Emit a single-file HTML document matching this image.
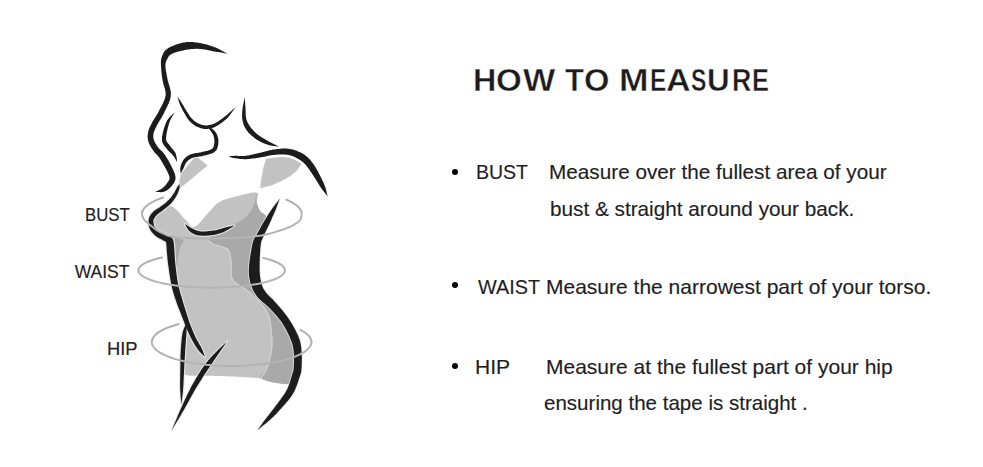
<!DOCTYPE html>
<html><head><meta charset="utf-8"><title>How to Measure</title>
<style>
html,body{margin:0;padding:0;background:#fff;}
body{width:983px;height:467px;position:relative;overflow:hidden;font-family:"Liberation Sans",sans-serif;}
.t{position:absolute;white-space:pre;line-height:1;transform-origin:0 0;-webkit-text-stroke:0.15px currentColor;}
.t.h{-webkit-text-stroke:0.4px #fff;}
.dot{position:absolute;width:6px;height:6px;border-radius:50%;background:#050505;}
svg{position:absolute;left:0;top:0;}
</style></head><body>
<svg width="983" height="467" viewBox="0 0 983 467">
<path d="M142.0,214.8 L142.0,213.6 L142.2,212.4 L142.5,211.2 L143.1,210.0 L143.8,208.9 L144.7,207.7 L145.9,206.5 L147.2,205.4 L148.7,204.3 L150.3,203.2 L152.2,202.1 L154.2,201.1 L156.4,200.1 L158.7,199.1 L161.2,198.2 L163.9,197.3" fill="none" stroke="#b0b0b0" stroke-width="2.0"/>
<path d="M285.6,199.4 L287.6,200.2 L289.5,201.1 L291.2,202.0 L292.8,202.9 L294.3,203.8 L295.7,204.7 L296.9,205.7 L298.0,206.7 L299.0,207.7 L299.8,208.7 L300.4,209.7 L301.0,210.7 L301.4,211.7 L301.6,212.8 L301.7,213.8 L301.7,214.8" fill="none" stroke="#b0b0b0" stroke-width="2.0"/>
<path d="M138.4,270.9 L138.4,270.0 L138.6,269.0 L139.0,268.1 L139.6,267.1 L140.5,266.2 L141.5,265.3 L142.8,264.4 L144.3,263.5 L145.9,262.6 L147.8,261.8 L149.9,261.0 L152.1,260.2 L154.5,259.4 L157.1,258.7 L159.9,258.0 L162.8,257.3" fill="none" stroke="#b0b0b0" stroke-width="2.0"/>
<path d="M262.5,257.8 L265.2,258.4 L267.8,259.1 L270.2,259.8 L272.4,260.5 L274.5,261.3 L276.4,262.1 L278.1,262.9 L279.6,263.8 L281.0,264.6 L282.1,265.5 L283.1,266.4 L283.9,267.3 L284.4,268.2 L284.8,269.1 L285.0,270.0 L285.0,270.9" fill="none" stroke="#b0b0b0" stroke-width="2.0"/>
<path d="M151.8,342.8 L151.8,341.5 L152.0,340.2 L152.5,338.8 L153.2,337.5 L154.2,336.2 L155.4,334.9 L156.8,333.6 L158.5,332.4 L160.4,331.2 L162.5,330.0 L164.8,328.8 L167.4,327.7 L170.1,326.7 L173.1,325.7 L176.2,324.7 L179.5,323.8" fill="none" stroke="#b0b0b0" stroke-width="2.0"/>
<path d="M299.8,329.5 L301.3,330.3 L302.6,331.1 L303.9,331.8 L305.1,332.6 L306.2,333.4 L307.1,334.3 L308.0,335.1 L308.8,335.9 L309.5,336.8 L310.1,337.6 L310.5,338.5 L310.9,339.4 L311.2,340.2 L311.3,341.1 L311.4,342.0 L311.4,342.8" fill="none" stroke="#b0b0b0" stroke-width="2.0"/>
<path d="M170.3,206.0 L172.0,206.5 L173.7,207.5 L175.4,208.9 L177.1,210.5 L178.8,212.3 L180.4,214.1 L181.9,216.0 L183.4,217.7 L184.7,219.3 L186.0,220.5 L187.1,221.6 L188.1,222.6 L188.9,223.7 L189.6,224.6 L190.3,225.5 L191.0,226.2 L191.7,226.8 L192.5,227.1 L193.3,227.3 L194.3,227.1 L195.4,226.6 L196.6,225.8 L197.9,224.6 L199.2,223.3 L200.6,221.8 L201.9,220.2 L203.3,218.6 L204.6,217.1 L205.9,215.6 L207.1,214.3 L208.2,213.1 L209.3,211.8 L210.4,210.6 L211.4,209.4 L212.4,208.2 L213.4,207.0 L214.5,205.9 L215.5,204.8 L216.6,203.9 L217.8,203.0 L219.0,202.2 L220.1,201.6 L221.2,201.0 L222.3,200.5 L223.5,200.0 L224.7,199.6 L226.1,199.2 L227.6,198.7 L229.2,198.3 L231.0,197.8 L233.1,197.2 L235.7,196.5 L238.5,195.7 L241.4,195.0 L244.4,194.2 L247.3,193.6 L250.1,193.0 L252.5,192.6 L254.6,192.4 L256.2,192.5 L257.2,192.9 L257.8,193.5 L258.1,194.3 L258.0,195.3 L257.8,196.4 L257.5,197.6 L257.1,198.8 L256.8,200.0 L256.6,201.1 L256.7,202.1 L256.9,203.0 L257.1,203.9 L257.4,204.8 L257.7,205.7 L258.0,206.5 L258.3,207.4 L258.7,208.2 L259.1,209.1 L259.5,209.9 L260.0,210.7 L260.6,211.5 L261.3,212.1 L262.1,212.7 L262.9,213.3 L263.8,213.9 L264.6,214.6 L265.3,215.3 L265.9,216.1 L266.3,217.1 L266.4,218.2 L266.3,219.5 L265.9,221.1 L265.4,222.8 L264.7,224.6 L264.0,226.4 L263.2,228.3 L262.4,230.2 L261.6,231.9 L260.9,233.6 L260.3,235.0 L259.8,236.2 L259.4,237.2 L258.9,238.0 L258.5,238.8 L258.2,239.5 L257.8,240.2 L257.5,241.1 L257.1,242.1 L256.8,243.4 L256.5,245.0 L256.2,246.9 L255.9,249.2 L255.6,251.7 L255.3,254.4 L255.0,257.2 L254.7,260.0 L254.5,262.8 L254.3,265.4 L254.2,267.8 L254.2,270.0 L254.2,271.9 L254.3,273.7 L254.5,275.4 L254.6,277.0 L254.9,278.4 L255.1,279.8 L255.4,281.2 L255.8,282.5 L256.1,283.7 L256.5,285.0 L256.9,286.2 L257.3,287.3 L257.8,288.4 L258.2,289.4 L258.8,290.3 L259.3,291.2 L259.9,292.2 L260.5,293.1 L261.2,294.0 L262.0,295.0 L262.8,296.0 L263.7,296.9 L264.6,297.8 L265.6,298.7 L266.6,299.7 L267.7,300.6 L268.8,301.6 L269.9,302.7 L271.0,303.8 L272.2,305.0 L273.4,306.3 L274.7,307.7 L276.0,309.1 L277.3,310.6 L278.7,312.2 L280.0,313.8 L281.4,315.4 L282.7,317.1 L283.9,318.7 L285.1,320.4 L286.2,322.1 L287.3,323.9 L288.4,325.8 L289.5,327.7 L290.5,329.6 L291.5,331.4 L292.4,333.3 L293.3,335.1 L294.0,336.8 L294.7,338.4 L295.3,339.9 L295.7,341.3 L296.1,342.6 L296.5,343.9 L296.7,345.1 L296.9,346.3 L297.1,347.5 L297.3,348.8 L297.4,350.0 L297.6,351.3 L297.8,352.6 L297.9,354.0 L298.0,355.4 L298.1,356.9 L298.1,358.3 L298.2,359.7 L298.2,361.1 L298.1,362.4 L298.1,363.7 L298.0,365.0 L297.9,366.2 L297.8,367.4 L297.7,368.6 L297.5,369.7 L297.3,370.9 L297.1,371.9 L296.8,373.0 L296.5,374.0 L296.0,375.0 L295.5,376.0 L294.9,377.0 L294.4,378.0 L293.8,379.0 L293.2,380.1 L292.5,381.0 L291.7,381.9 L290.7,382.7 L289.6,383.3 L288.2,383.8 L286.6,384.0 L284.8,384.0 L282.8,383.7 L280.6,383.2 L278.3,382.6 L275.8,381.9 L273.1,381.1 L270.3,380.4 L267.3,379.6 L264.2,379.0 L260.9,378.5 L257.4,378.1 L253.6,377.8 L249.6,377.5 L245.4,377.2 L241.1,377.0 L236.8,376.8 L232.4,376.6 L228.1,376.4 L224.0,376.2 L220.0,376.0 L216.0,375.9 L211.8,375.8 L207.6,375.8 L203.4,375.9 L199.2,375.9 L195.3,375.8 L191.7,375.7 L188.4,375.4 L185.7,375.0 L183.5,374.3 L182.0,373.4 L181.1,372.3 L180.7,371.1 L180.7,369.8 L180.9,368.3 L181.4,366.7 L181.9,365.1 L182.5,363.4 L182.8,361.7 L183.0,360.0 L183.0,358.2 L183.0,356.3 L183.0,354.4 L183.0,352.3 L183.0,350.3 L183.1,348.2 L183.1,346.1 L183.2,344.0 L183.3,342.0 L183.5,340.0 L183.7,338.1 L184.1,336.3 L184.5,334.5 L185.0,332.8 L185.5,331.1 L185.9,329.3 L186.3,327.5 L186.5,325.6 L186.6,323.5 L186.5,321.4 L186.2,319.1 L185.7,316.7 L185.2,314.2 L184.4,311.6 L183.7,309.0 L182.8,306.3 L182.0,303.6 L181.1,301.0 L180.3,298.3 L179.5,295.7 L178.7,293.1 L178.0,290.4 L177.1,287.7 L176.3,284.9 L175.5,282.2 L174.7,279.5 L173.9,276.9 L173.2,274.5 L172.5,272.1 L172.0,270.0 L171.6,268.1 L171.2,266.3 L171.0,264.8 L170.8,263.3 L170.6,262.0 L170.5,260.6 L170.3,259.3 L170.1,258.0 L169.9,256.5 L169.6,255.0 L169.2,253.3 L168.9,251.5 L168.5,249.7 L168.1,247.8 L167.7,245.9 L167.2,244.0 L166.7,242.3 L166.2,240.7 L165.6,239.2 L165.0,238.0 L164.3,237.0 L163.5,236.3 L162.6,235.7 L161.7,235.2 L160.7,234.9 L159.8,234.6 L158.9,234.2 L158.0,233.9 L157.1,233.4 L156.4,232.8 L155.7,232.1 L155.0,231.3 L154.3,230.5 L153.7,229.7 L153.1,228.8 L152.5,227.9 L152.0,227.0 L151.6,226.1 L151.3,225.2 L151.0,224.3 L150.8,223.4 L150.5,222.5 L150.3,221.6 L150.2,220.7 L150.1,219.8 L150.1,218.9 L150.3,218.0 L150.7,217.0 L151.3,216.1 L152.1,215.2 L153.2,214.2 L154.7,213.0 L156.4,211.7 L158.3,210.4 L160.3,209.1 L162.4,208.0 L164.5,207.0 L166.5,206.3 L168.5,206.0Z" fill="#c2c2c2"/>
<path d="M256.2,192.5 L256.3,192.6 L256.3,193.1 L256.3,193.9 L256.3,194.9 L256.3,196.1 L256.4,197.4 L256.4,198.7 L256.4,199.9 L256.5,201.1 L256.7,202.1 L256.9,203.0 L257.1,203.9 L257.4,204.8 L257.7,205.7 L258.0,206.5 L258.3,207.4 L258.7,208.2 L259.1,209.1 L259.5,209.9 L260.0,210.7 L260.6,211.5 L261.3,212.1 L262.1,212.7 L262.9,213.3 L263.8,213.9 L264.6,214.6 L265.3,215.3 L265.9,216.1 L266.3,217.1 L266.4,218.2 L266.3,219.5 L265.9,221.1 L265.4,222.8 L264.7,224.6 L264.0,226.4 L263.2,228.3 L262.4,230.2 L261.6,231.9 L260.9,233.6 L260.3,235.0 L259.8,236.2 L259.4,237.2 L258.9,238.0 L258.5,238.8 L258.2,239.5 L257.8,240.2 L257.5,241.1 L257.1,242.1 L256.8,243.4 L256.5,245.0 L256.2,246.9 L255.9,249.2 L255.6,251.7 L255.3,254.4 L255.0,257.2 L254.7,260.0 L254.5,262.8 L254.3,265.4 L254.2,267.8 L254.2,270.0 L254.2,271.9 L254.3,273.7 L254.5,275.4 L254.6,277.0 L254.9,278.4 L255.1,279.8 L255.4,281.2 L255.8,282.5 L256.1,283.7 L256.5,285.0 L256.9,286.2 L257.3,287.3 L257.8,288.4 L258.2,289.4 L258.8,290.3 L259.3,291.2 L259.9,292.2 L260.5,293.1 L261.2,294.0 L262.0,295.0 L262.8,296.0 L263.7,296.9 L264.6,297.8 L265.6,298.7 L266.6,299.7 L267.7,300.6 L268.8,301.6 L269.9,302.7 L271.0,303.8 L272.2,305.0 L273.4,306.3 L274.7,307.7 L276.0,309.1 L277.3,310.6 L278.7,312.2 L280.0,313.8 L281.4,315.4 L282.7,317.1 L283.9,318.7 L285.1,320.4 L286.2,322.1 L287.3,323.9 L288.4,325.8 L289.5,327.7 L290.5,329.6 L291.5,331.4 L292.4,333.3 L293.3,335.1 L294.0,336.8 L294.7,338.4 L295.3,339.9 L295.7,341.3 L296.1,342.6 L296.5,343.9 L296.7,345.1 L296.9,346.3 L297.1,347.5 L297.3,348.8 L297.4,350.0 L297.6,351.3 L297.8,352.6 L297.9,354.0 L298.0,355.4 L298.1,356.9 L298.1,358.3 L298.2,359.7 L298.2,361.1 L298.1,362.4 L298.1,363.7 L298.0,365.0 L297.9,366.2 L297.8,367.4 L297.7,368.6 L297.5,369.7 L297.3,370.9 L297.1,371.9 L296.8,373.0 L296.5,374.0 L296.0,375.0 L295.5,376.0 L294.9,377.0 L294.4,378.0 L293.8,379.0 L293.2,380.1 L292.5,381.0 L291.7,381.9 L290.7,382.7 L289.6,383.3 L288.2,383.8 L286.6,384.0 L284.6,384.0 L282.0,383.8 L279.1,383.5 L276.0,383.0 L272.8,382.4 L269.7,381.7 L266.8,380.9 L264.3,380.1 L262.3,379.3 L260.9,378.5 L260.2,377.7 L260.1,376.8 L260.4,376.0 L261.1,375.0 L262.1,374.0 L263.1,373.0 L264.3,371.9 L265.4,370.7 L266.3,369.4 L267.0,368.0 L267.5,366.5 L268.1,364.9 L268.6,363.1 L269.1,361.3 L269.6,359.4 L270.1,357.5 L270.5,355.5 L270.9,353.6 L271.2,351.8 L271.5,350.0 L271.7,348.3 L271.9,346.7 L272.0,345.1 L272.0,343.5 L272.1,342.0 L272.0,340.4 L272.0,338.8 L271.9,337.1 L271.7,335.3 L271.5,333.5 L271.3,331.5 L271.1,329.5 L270.9,327.3 L270.6,325.1 L270.3,322.9 L269.9,320.7 L269.4,318.4 L268.8,316.2 L268.0,314.1 L267.0,312.0 L265.8,310.0 L264.4,307.9 L262.8,305.9 L261.1,303.8 L259.3,301.9 L257.4,299.9 L255.5,298.0 L253.6,296.2 L251.8,294.5 L250.0,292.8 L248.2,291.3 L246.3,289.9 L244.4,288.6 L242.4,287.3 L240.4,286.1 L238.6,285.0 L236.8,283.8 L235.2,282.6 L233.9,281.3 L232.8,280.0 L232.0,278.6 L231.5,277.0 L231.2,275.5 L231.1,273.9 L231.1,272.2 L231.2,270.6 L231.3,269.1 L231.4,267.6 L231.5,266.3 L231.4,265.0 L231.3,263.9 L231.2,262.9 L231.1,261.9 L231.0,261.0 L231.0,260.2 L230.9,259.5 L230.8,258.7 L230.6,257.9 L230.5,257.2 L230.3,256.4 L230.1,255.6 L230.0,254.8 L229.8,254.0 L229.7,253.2 L229.5,252.4 L229.3,251.7 L228.9,250.9 L228.5,250.2 L227.9,249.5 L227.1,248.9 L226.1,248.3 L224.9,247.8 L223.4,247.2 L221.9,246.7 L220.3,246.3 L218.7,245.8 L217.1,245.4 L215.6,245.0 L214.3,244.5 L213.2,244.1 L212.3,243.7 L211.4,243.3 L210.6,243.0 L209.8,242.6 L209.2,242.3 L208.6,242.0 L208.2,241.6 L207.9,241.2 L207.8,240.8 L207.8,240.3 L208.0,239.8 L208.3,239.2 L208.8,238.7 L209.4,238.1 L210.1,237.4 L210.9,236.8 L211.8,236.1 L212.8,235.4 L213.9,234.7 L215.0,234.0 L216.3,233.2 L217.7,232.4 L219.3,231.6 L221.0,230.7 L222.8,229.8 L224.6,228.9 L226.3,228.0 L228.0,227.2 L229.6,226.4 L231.0,225.7 L232.3,225.1 L233.5,224.5 L234.7,224.0 L235.8,223.5 L236.9,223.0 L237.9,222.5 L238.9,222.1 L239.9,221.5 L240.8,221.0 L241.8,220.3 L242.8,219.6 L243.7,218.8 L244.7,218.0 L245.6,217.1 L246.5,216.3 L247.3,215.4 L248.1,214.5 L248.9,213.6 L249.6,212.7 L250.3,211.8 L250.9,211.0 L251.5,210.1 L252.0,209.3 L252.5,208.5 L252.9,207.6 L253.3,206.8 L253.6,205.9 L254.0,205.1 L254.3,204.1 L254.6,203.2 L254.9,202.1 L255.1,200.9 L255.3,199.5 L255.5,198.1 L255.6,196.7 L255.8,195.4 L255.9,194.3 L256.0,193.4 L256.1,192.8Z" fill="#a9a9a9"/>
<path d="M207.8,240.3 L208.3,240.7 L208.7,241.0 L209.2,241.4 L209.6,241.8 L210.0,242.1 L210.4,242.5 L211.0,242.9 L211.6,243.3 L212.3,243.7 L213.2,244.1 L214.3,244.5 L215.6,245.0 L217.1,245.4 L218.7,245.8 L220.3,246.3 L221.9,246.7 L223.4,247.2 L224.9,247.8 L226.1,248.3 L227.1,248.9 L227.9,249.5 L228.5,250.2 L228.9,250.9 L229.3,251.7 L229.5,252.4 L229.7,253.2 L229.8,254.0 L230.0,254.8 L230.1,255.6 L230.3,256.4 L230.5,257.2 L230.6,257.9 L230.8,258.7 L230.9,259.5 L231.0,260.2 L231.0,261.0 L231.1,261.9 L231.2,262.9 L231.3,263.9 L231.4,265.0 L231.5,266.3 L231.4,267.6 L231.3,269.1 L231.2,270.6 L231.1,272.2 L231.1,273.9 L231.2,275.5 L231.5,277.0 L232.0,278.6 L232.8,280.0 L233.9,281.3 L235.2,282.6 L236.8,283.8 L238.6,285.0 L240.4,286.1 L242.4,287.3 L244.4,288.6 L246.3,289.9 L248.2,291.3 L250.0,292.8 L251.8,294.5 L253.6,296.2 L255.5,298.0 L257.4,299.9 L259.3,301.9 L261.1,303.8 L262.8,305.9 L264.4,307.9 L265.8,310.0 L267.0,312.0 L268.0,314.1 L268.8,316.2 L269.4,318.4 L269.9,320.7 L270.3,322.9 L270.6,325.1 L270.9,327.3 L271.1,329.5 L271.3,331.5 L271.5,333.5 L271.7,335.3 L271.9,337.1 L272.0,338.8 L272.0,340.4 L272.1,342.0 L272.0,343.5 L272.0,345.1 L271.9,346.7 L271.7,348.3 L271.5,350.0 L271.2,351.8 L270.9,353.6 L270.5,355.5 L270.1,357.5 L269.6,359.4 L269.1,361.3 L268.6,363.1 L268.1,364.9 L267.5,366.5 L267.0,368.0 L266.5,369.4 L265.9,370.6 L265.3,371.7 L264.7,372.7 L264.1,373.7 L263.4,374.7 L262.8,375.6 L262.1,376.5 L261.5,377.5 L260.9,378.5" fill="none" stroke="#d4d4d4" stroke-width="1.2"/>
<path d="M266.1,159.1 L274.0,157.6 L282.1,157.0 L288.0,157.6 L293.0,159.0 L298.0,161.5 L301.4,163.9 L299.0,167.5 L296.1,171.4 L291.0,175.5 L285.4,178.9 L278.0,182.5 L271.4,185.4 L265.0,187.0 L260.2,188.2 L260.8,182.0 L261.8,176.8 L263.5,167.0Z" fill="#c2c2c2"/>
<path d="M193.6,158.2 L197.3,157.2 L207.6,165.4 L179.3,188.9 L178.2,187.8 L180.8,174.0Z" fill="#c2c2c2"/>
<path d="M173.5,240.0 L174.1,238.9 L175.0,238.2 L176.0,237.8 L177.2,237.8 L178.4,238.0 L179.6,238.4 L180.8,238.9 L181.7,239.5 L182.5,240.0 L183.0,240.5 L183.2,241.0 L183.2,241.5 L183.0,242.2 L182.7,242.9 L182.2,243.7 L181.7,244.5 L181.2,245.3 L180.7,246.2 L180.3,247.1 L180.0,248.0 L179.8,248.9 L179.5,249.8 L179.3,250.8 L179.1,251.8 L178.9,252.8 L178.7,253.9 L178.5,254.9 L178.3,256.0 L178.2,257.0 L178.0,258.0 L177.9,259.0 L177.8,260.2 L177.7,261.3 L177.6,262.5 L177.6,263.6 L177.5,264.7 L177.4,265.7 L177.3,266.6 L177.2,267.4 L177.0,268.0 L176.8,268.5 L176.5,269.1 L176.2,269.6 L175.8,270.1 L175.5,270.4 L175.1,270.5 L174.8,270.4 L174.5,270.0 L174.2,269.2 L174.0,268.0 L173.8,266.2 L173.6,263.7 L173.4,260.8 L173.1,257.4 L173.0,254.0 L172.9,250.5 L172.8,247.2 L172.9,244.2 L173.1,241.8Z" fill="#a9a9a9"/>
<path d="M179.7,183.9 L179.4,184.3 L179.2,184.6 L178.9,185.0 L178.6,185.3 L178.3,185.7 L178.1,186.0 L177.8,186.4 L177.5,186.7 L177.3,187.1 L177.0,187.5 L176.7,188.0 L176.5,188.4 L176.3,188.9 L176.0,189.3 L175.8,189.8 L175.6,190.3 L175.3,190.8 L175.1,191.3 L174.8,191.7 L174.5,192.2 L174.2,192.7 L173.9,193.2 L173.6,193.7 L173.2,194.3 L172.9,194.8 L172.5,195.3 L172.1,195.8 L171.8,196.4 L171.4,196.9 L171.0,197.4 L170.6,197.8 L170.2,198.3 L169.8,198.8 L169.4,199.3 L168.9,199.7 L168.5,200.2 L168.0,200.6 L167.6,201.1 L167.1,201.5 L166.6,202.0 L166.1,202.5 L165.6,202.9 L165.0,203.4 L164.4,203.8 L163.8,204.3 L163.2,204.8 L162.6,205.2 L161.9,205.7 L161.3,206.1 L160.7,206.6 L160.1,207.0 L159.5,207.4 L158.9,207.8 L158.3,208.2 L157.6,208.6 L157.0,209.0 L156.3,209.4 L155.7,209.8 L155.1,210.3 L154.5,210.7 L154.0,211.1 L153.5,211.6 L153.0,212.0 L152.6,212.4 L152.1,212.9 L151.7,213.3 L151.4,213.8 L151.0,214.2 L150.7,214.7 L150.4,215.2 L150.1,215.7 L149.8,216.1 L149.6,216.6 L149.4,217.2 L149.2,217.7 L149.0,218.3 L148.8,218.9 L148.7,219.6 L148.6,220.2 L148.6,220.9 L148.6,221.6 L148.6,222.4 L148.6,223.2 L148.7,224.0 L148.8,224.8 L148.9,225.7 L149.1,226.6 L149.3,227.5 L149.6,228.3 L149.9,229.2 L150.4,230.0 L150.9,230.8 L151.4,231.6 L152.0,232.3 L152.6,233.0 L153.2,233.6 L153.8,234.2 L154.4,234.8 L155.0,235.4 L155.7,235.9 L156.4,236.5 L157.1,237.0 L157.9,237.5 L158.6,237.9 L159.3,238.3 L160.0,238.7 L160.7,239.0 L161.3,239.3 L161.8,239.6 L162.4,240.0 L163.1,240.4 L163.8,240.8 L164.4,241.1 L165.0,241.3 L165.4,241.6 L165.7,241.8 L165.9,241.9 L165.9,242.0 L166.0,242.1 L166.0,242.1 L166.1,242.4 L166.2,242.8 L166.3,243.5 L166.3,244.2 L166.4,245.1 L166.5,246.1 L166.5,247.1 L166.6,248.2 L166.6,249.3 L166.7,250.3 L166.8,251.3 L166.9,252.3 L167.0,253.2 L167.1,254.2 L167.2,255.2 L167.3,256.2 L167.4,257.3 L167.4,258.3 L167.6,259.3 L167.7,260.4 L167.8,261.4 L167.9,262.3 L168.0,263.3 L168.1,264.3 L168.3,265.2 L168.4,266.2 L168.6,267.2 L168.7,268.3 L168.9,269.4 L169.0,270.5 L169.2,271.6 L169.4,272.9 L169.6,274.1 L169.8,275.5 L170.0,276.8 L170.2,278.2 L170.4,279.5 L170.7,280.9 L170.9,282.3 L171.2,283.7 L171.5,284.9 L171.7,286.1 L171.9,287.2 L172.2,288.4 L172.5,289.5 L172.8,290.8 L173.1,292.1 L173.6,293.5 L174.1,295.2 L174.7,297.0 L175.4,299.1 L176.2,301.4 L177.1,304.0 L178.1,306.7 L179.2,309.5 L180.3,312.3 L181.3,315.0 L182.3,317.6 L183.3,320.1 L184.2,322.3 L184.9,324.2 L185.7,326.1 L186.4,327.8 L187.1,329.4 L187.7,330.9 L188.4,332.4 L189.0,333.8 L189.7,335.2 L190.3,336.6 L191.0,338.0 L191.8,339.4 L192.5,340.8 L193.2,342.1 L194.0,343.4 L194.7,344.7 L195.5,345.9 L196.2,347.1 L197.0,348.2 L197.7,349.2 L198.4,350.2 L199.1,351.1 L199.8,351.9 L200.4,352.6 L201.1,353.3 L201.7,354.0 L202.4,354.6 L203.0,355.1 L203.7,355.7 L204.3,356.3 L205.0,357.0 L205.0,357.0 L204.7,356.1 L204.4,355.3 L204.1,354.5 L203.8,353.6 L203.5,352.8 L203.2,352.0 L202.9,351.1 L202.5,350.2 L202.1,349.2 L201.6,348.2 L201.1,347.1 L200.5,346.0 L199.8,344.9 L199.1,343.7 L198.4,342.5 L197.7,341.3 L197.0,340.0 L196.3,338.7 L195.6,337.4 L195.0,336.0 L194.4,334.7 L193.8,333.3 L193.2,332.0 L192.6,330.6 L192.0,329.1 L191.4,327.6 L190.8,326.0 L190.2,324.3 L189.5,322.5 L188.8,320.5 L188.1,318.3 L187.3,315.9 L186.5,313.2 L185.6,310.4 L184.7,307.6 L183.8,304.8 L183.0,302.0 L182.3,299.5 L181.6,297.1 L180.9,295.0 L180.4,293.2 L180.0,291.7 L179.6,290.3 L179.3,289.1 L179.0,287.9 L178.7,286.9 L178.5,285.8 L178.3,284.7 L178.0,283.6 L177.8,282.3 L177.5,281.1 L177.3,279.8 L177.1,278.5 L176.9,277.1 L176.8,275.8 L176.6,274.5 L176.4,273.2 L176.3,271.9 L176.1,270.7 L176.0,269.5 L175.8,268.4 L175.7,267.3 L175.6,266.3 L175.5,265.3 L175.4,264.4 L175.3,263.4 L175.2,262.5 L175.1,261.6 L175.0,260.6 L174.9,259.6 L174.9,258.7 L174.8,257.7 L174.7,256.7 L174.7,255.7 L174.6,254.7 L174.6,253.7 L174.5,252.7 L174.5,251.7 L174.4,250.6 L174.3,249.7 L174.2,248.7 L174.1,247.8 L174.1,246.7 L174.0,245.7 L173.9,244.6 L173.8,243.4 L173.7,242.3 L173.5,241.2 L173.1,240.0 L172.6,238.9 L171.9,237.8 L171.1,236.8 L170.2,236.1 L169.4,235.6 L168.6,235.2 L167.8,234.9 L167.2,234.6 L166.6,234.4 L166.1,234.3 L165.6,234.0 L165.0,233.7 L164.2,233.3 L163.5,233.0 L162.8,232.7 L162.1,232.5 L161.5,232.2 L160.9,231.9 L160.3,231.6 L159.8,231.4 L159.3,231.1 L158.8,230.7 L158.2,230.3 L157.7,229.8 L157.1,229.4 L156.6,229.0 L156.1,228.5 L155.7,228.1 L155.3,227.6 L154.9,227.2 L154.7,226.8 L154.4,226.4 L154.2,225.9 L154.0,225.3 L153.8,224.7 L153.7,224.1 L153.6,223.4 L153.5,222.8 L153.4,222.2 L153.4,221.6 L153.4,221.1 L153.4,220.6 L153.5,220.3 L153.5,220.0 L153.6,219.7 L153.7,219.4 L153.9,219.1 L154.0,218.8 L154.2,218.5 L154.4,218.2 L154.6,217.8 L154.9,217.4 L155.1,217.1 L155.3,216.8 L155.5,216.4 L155.8,216.1 L156.1,215.8 L156.4,215.4 L156.8,215.0 L157.1,214.7 L157.5,214.3 L157.9,213.9 L158.4,213.5 L158.9,213.2 L159.5,212.7 L160.1,212.3 L160.7,211.9 L161.3,211.4 L162.0,211.0 L162.6,210.5 L163.3,210.0 L163.9,209.6 L164.5,209.1 L165.1,208.6 L165.8,208.1 L166.4,207.6 L167.0,207.1 L167.6,206.6 L168.2,206.1 L168.8,205.5 L169.4,205.0 L169.9,204.5 L170.4,204.0 L170.9,203.4 L171.4,202.9 L171.9,202.4 L172.3,201.8 L172.8,201.3 L173.2,200.8 L173.6,200.2 L174.0,199.6 L174.4,199.1 L174.8,198.5 L175.2,197.9 L175.6,197.3 L175.9,196.7 L176.2,196.1 L176.6,195.5 L176.9,194.9 L177.2,194.4 L177.5,193.8 L177.7,193.2 L178.0,192.6 L178.2,192.1 L178.4,191.5 L178.6,191.0 L178.8,190.5 L179.0,190.0 L179.2,189.5 L179.3,189.0 L179.4,188.5 L179.5,188.0 L179.6,187.5 L179.6,187.0 L179.6,186.6 L179.7,186.1 L179.7,185.7 L179.7,185.2 L179.7,184.8 L179.7,184.4 L179.7,183.9Z" fill="#1c1c1c" stroke="#e6e6e6" stroke-width="2.2" stroke-linejoin="round"/>
<path d="M187.0,322.0 L186.6,323.0 L186.1,324.0 L185.6,324.9 L185.1,325.9 L184.7,326.8 L184.2,327.8 L183.8,328.9 L183.3,330.1 L183.0,331.3 L182.6,332.7 L182.3,334.2 L182.1,335.8 L181.8,337.5 L181.6,339.2 L181.5,341.0 L181.3,342.8 L181.2,344.7 L181.0,346.5 L180.9,348.4 L180.8,350.3 L180.7,352.1 L180.6,354.1 L180.5,356.0 L180.5,358.0 L180.4,360.0 L180.4,362.0 L180.4,364.0 L180.4,366.0 L180.3,367.9 L180.3,369.9 L180.3,371.9 L180.2,374.0 L180.2,376.1 L180.2,378.2 L180.1,380.3 L180.1,382.3 L180.1,384.4 L180.1,386.3 L180.2,388.2 L180.2,390.0 L180.3,391.6 L180.4,393.2 L180.5,394.7 L180.6,396.1 L180.7,397.5 L180.9,398.8 L181.0,400.1 L181.1,401.4 L181.3,402.8 L181.4,404.2 L181.4,404.2 L181.6,402.8 L181.7,401.5 L181.9,400.1 L182.1,398.8 L182.2,397.5 L182.4,396.1 L182.6,394.7 L182.7,393.2 L182.9,391.7 L183.0,390.0 L183.1,388.3 L183.3,386.4 L183.4,384.5 L183.5,382.4 L183.6,380.4 L183.7,378.3 L183.8,376.2 L183.9,374.1 L184.0,372.1 L184.1,370.1 L184.2,368.1 L184.3,366.1 L184.4,364.1 L184.5,362.1 L184.6,360.1 L184.8,358.1 L184.9,356.2 L185.0,354.3 L185.1,352.4 L185.2,350.5 L185.3,348.7 L185.4,346.8 L185.6,345.0 L185.7,343.1 L185.8,341.3 L185.9,339.6 L186.1,337.9 L186.2,336.3 L186.3,334.7 L186.4,333.3 L186.5,331.9 L186.5,330.7 L186.6,329.5 L186.6,328.4 L186.7,327.4 L186.8,326.3 L186.8,325.3 L186.9,324.2 L186.9,323.1 L187.0,322.0Z" fill="#1c1c1c" stroke="#e6e6e6" stroke-width="2.2" stroke-linejoin="round"/>
<path d="M227.4,341.0 L225.5,342.9 L223.5,344.8 L221.5,346.7 L219.5,348.6 L217.5,350.5 L215.6,352.4 L213.6,354.4 L211.7,356.4 L209.9,358.4 L208.1,360.6 L206.4,362.8 L204.7,365.0 L203.1,367.3 L201.5,369.6 L200.0,372.0 L198.5,374.3 L197.1,376.7 L195.6,379.1 L194.3,381.4 L192.9,383.8 L191.6,386.1 L190.4,388.5 L189.2,390.9 L188.0,393.2 L186.9,395.6 L185.8,398.0 L184.7,400.3 L183.6,402.6 L182.6,404.9 L181.5,407.2 L180.5,409.5 L179.5,411.8 L178.5,414.1 L177.5,416.4 L176.6,418.7 L175.6,420.9 L174.7,423.2 L173.7,425.5 L172.8,427.7 L171.8,430.0 L171.8,430.0 L173.1,427.9 L174.3,425.8 L175.6,423.7 L176.9,421.6 L178.1,419.5 L179.4,417.4 L180.7,415.2 L181.9,413.1 L183.2,410.9 L184.5,408.8 L185.7,406.5 L187.0,404.3 L188.2,402.1 L189.4,399.8 L190.7,397.5 L191.9,395.3 L193.2,393.0 L194.4,390.7 L195.7,388.5 L197.1,386.2 L198.5,383.9 L199.9,381.7 L201.4,379.4 L202.8,377.1 L204.3,374.8 L205.9,372.5 L207.4,370.2 L208.9,367.9 L210.4,365.7 L211.9,363.4 L213.4,361.2 L214.9,359.0 L216.5,356.7 L218.0,354.5 L219.6,352.3 L221.1,350.0 L222.7,347.8 L224.3,345.5 L225.8,343.3 L227.4,341.0Z" fill="#1c1c1c" stroke="#e6e6e6" stroke-width="2.0" stroke-linejoin="round"/>
<path d="M279.6,199.1 L278.8,200.1 L278.1,201.1 L277.3,202.0 L276.5,203.0 L275.7,204.0 L275.0,205.0 L274.2,206.0 L273.4,207.0 L272.6,208.0 L271.9,209.1 L271.1,210.2 L270.3,211.4 L269.6,212.6 L268.8,213.8 L268.0,215.0 L267.2,216.2 L266.5,217.5 L265.7,218.7 L265.0,219.9 L264.2,221.1 L263.5,222.4 L262.8,223.6 L262.0,224.9 L261.3,226.1 L260.6,227.4 L259.9,228.7 L259.2,230.0 L258.5,231.2 L257.8,232.4 L257.2,233.5 L256.7,234.5 L256.2,235.3 L255.8,236.0 L255.3,236.8 L254.8,237.7 L254.2,238.6 L253.8,239.8 L253.3,241.1 L252.8,242.6 L252.4,244.3 L252.0,246.3 L251.5,248.6 L251.1,251.2 L250.6,253.9 L250.2,256.7 L249.7,259.6 L249.4,262.4 L249.1,265.1 L248.9,267.7 L248.8,270.0 L248.8,272.1 L248.9,274.1 L249.0,275.9 L249.3,277.7 L249.6,279.3 L249.9,280.9 L250.3,282.4 L250.7,283.8 L251.1,285.2 L251.6,286.6 L252.1,287.9 L252.6,289.2 L253.2,290.4 L253.8,291.6 L254.5,292.7 L255.2,293.8 L255.9,294.8 L256.7,295.9 L257.5,296.9 L258.4,297.9 L259.4,299.0 L260.4,300.1 L261.5,301.1 L262.6,302.0 L263.7,302.9 L264.8,303.8 L265.9,304.7 L267.0,305.7 L268.1,306.7 L269.2,307.8 L270.4,309.1 L271.6,310.4 L273.0,311.8 L274.3,313.3 L275.7,314.8 L277.0,316.3 L278.3,317.9 L279.6,319.5 L280.8,321.0 L281.9,322.6 L282.9,324.2 L284.0,325.9 L285.0,327.7 L286.0,329.6 L287.0,331.4 L287.9,333.3 L288.7,335.1 L289.5,336.8 L290.2,338.4 L290.9,340.0 L291.4,341.3 L291.8,342.5 L292.2,343.7 L292.5,344.7 L292.8,345.7 L293.0,346.8 L293.2,347.9 L293.4,349.0 L293.6,350.3 L293.7,351.6 L293.8,353.1 L293.9,354.7 L294.0,356.4 L294.0,358.1 L294.0,359.9 L294.0,361.7 L293.9,363.4 L293.9,365.0 L293.8,366.4 L293.7,367.7 L293.6,368.8 L293.5,369.6 L293.5,370.2 L293.4,370.7 L293.3,371.1 L293.2,371.5 L293.0,372.1 L292.7,372.8 L292.4,373.7 L292.1,374.8 L291.7,376.1 L291.3,377.6 L290.8,379.1 L290.4,380.7 L289.8,382.3 L289.3,383.9 L288.7,385.6 L288.1,387.2 L287.4,388.7 L286.7,390.2 L285.8,391.7 L284.9,393.3 L283.8,395.0 L282.6,396.6 L281.4,398.3 L280.2,400.0 L279.0,401.6 L277.8,403.2 L276.6,404.8 L275.5,406.2 L274.5,407.6 L273.6,408.8 L272.7,410.0 L271.8,411.1 L270.9,412.2 L270.1,413.3 L269.2,414.4 L268.4,415.4 L267.5,416.6 L266.6,417.7 L265.7,418.9 L264.8,420.1 L263.9,421.3 L263.0,422.5 L262.2,423.7 L261.3,424.9 L260.4,426.1 L259.5,427.4 L258.6,428.6 L257.7,429.8 L257.7,429.8 L258.9,428.9 L260.1,427.9 L261.2,427.0 L262.4,426.1 L263.6,425.1 L264.8,424.2 L266.0,423.2 L267.1,422.3 L268.3,421.3 L269.4,420.3 L270.5,419.3 L271.5,418.3 L272.5,417.4 L273.5,416.4 L274.5,415.4 L275.5,414.4 L276.6,413.4 L277.6,412.2 L278.7,411.0 L279.9,409.8 L281.1,408.4 L282.4,407.0 L283.7,405.5 L285.1,403.9 L286.5,402.3 L287.9,400.7 L289.3,399.0 L290.6,397.2 L291.8,395.5 L292.9,393.8 L293.9,392.0 L294.8,390.2 L295.6,388.3 L296.4,386.5 L297.0,384.7 L297.6,383.0 L298.2,381.4 L298.7,379.8 L299.1,378.4 L299.5,377.2 L299.9,376.2 L300.2,375.3 L300.4,374.5 L300.7,373.8 L300.9,373.0 L301.1,372.2 L301.2,371.4 L301.3,370.5 L301.4,369.5 L301.5,368.3 L301.6,366.9 L301.7,365.3 L301.7,363.6 L301.8,361.8 L301.8,360.0 L301.8,358.1 L301.8,356.2 L301.7,354.4 L301.6,352.6 L301.5,351.0 L301.4,349.5 L301.2,348.1 L301.1,346.8 L300.9,345.4 L300.7,344.1 L300.4,342.8 L300.1,341.4 L299.7,339.9 L299.2,338.4 L298.5,336.8 L297.8,335.1 L297.0,333.4 L296.1,331.5 L295.1,329.6 L294.1,327.7 L293.0,325.7 L291.9,323.8 L290.7,321.9 L289.5,320.0 L288.3,318.2 L287.1,316.4 L285.8,314.7 L284.4,313.0 L283.1,311.3 L281.7,309.6 L280.3,308.0 L279.0,306.4 L277.7,304.9 L276.4,303.5 L275.2,302.2 L274.0,300.9 L272.9,299.6 L271.7,298.5 L270.6,297.4 L269.6,296.4 L268.6,295.5 L267.7,294.6 L266.9,293.7 L266.3,292.9 L265.6,292.1 L265.0,291.2 L264.4,290.3 L263.9,289.5 L263.4,288.7 L263.0,287.9 L262.7,287.1 L262.3,286.3 L262.0,285.4 L261.7,284.5 L261.4,283.4 L261.1,282.3 L260.8,281.1 L260.6,279.9 L260.4,278.8 L260.2,277.5 L260.0,276.2 L259.9,274.9 L259.8,273.4 L259.7,271.8 L259.6,270.0 L259.6,268.0 L259.6,265.7 L259.6,263.1 L259.7,260.4 L259.8,257.6 L259.9,254.9 L260.1,252.2 L260.2,249.8 L260.4,247.6 L260.6,245.7 L260.8,244.2 L261.0,243.1 L261.1,242.2 L261.3,241.4 L261.5,240.8 L261.8,240.1 L262.1,239.4 L262.5,238.6 L262.9,237.6 L263.4,236.5 L263.9,235.3 L264.4,234.1 L264.9,232.9 L265.5,231.7 L266.2,230.4 L266.8,229.1 L267.5,227.8 L268.1,226.5 L268.8,225.2 L269.4,223.9 L270.0,222.6 L270.6,221.3 L271.2,219.9 L271.8,218.6 L272.3,217.3 L272.9,216.0 L273.5,214.7 L274.1,213.4 L274.6,212.1 L275.1,210.9 L275.6,209.7 L276.1,208.5 L276.6,207.3 L277.0,206.1 L277.4,204.9 L277.9,203.8 L278.3,202.6 L278.7,201.4 L279.2,200.3 L279.6,199.1Z" fill="#1c1c1c" stroke="#e6e6e6" stroke-width="1.6" stroke-linejoin="round"/>
<path d="M184.8,223.7 L185.3,224.5 L185.7,225.3 L186.1,226.1 L186.5,226.9 L186.9,227.7 L187.4,228.5 L187.9,229.4 L188.5,230.1 L189.2,230.9 L190.0,231.6 L190.7,232.2 L191.6,232.7 L192.4,233.3 L193.3,233.7 L194.3,234.2 L195.3,234.6 L196.4,234.9 L197.6,235.2 L198.8,235.5 L200.1,235.6 L201.5,235.8 L202.9,235.8 L204.5,235.8 L206.1,235.7 L207.7,235.6 L209.3,235.5 L210.9,235.3 L212.5,235.1 L214.0,234.9 L215.4,234.6 L216.7,234.3 L218.0,234.0 L219.2,233.6 L220.4,233.2 L221.5,232.8 L222.6,232.4 L223.7,231.9 L224.7,231.5 L225.6,231.0 L226.6,230.5 L227.5,230.1 L228.4,229.6 L229.2,229.1 L230.0,228.6 L230.8,228.0 L231.6,227.5 L232.3,227.0 L233.1,226.4 L233.8,225.9 L234.6,225.4 L234.6,225.4 L233.7,225.6 L232.8,225.8 L231.9,226.0 L231.0,226.2 L230.1,226.4 L229.2,226.6 L228.3,226.8 L227.4,227.0 L226.4,227.2 L225.4,227.5 L224.4,227.7 L223.4,228.0 L222.3,228.4 L221.3,228.7 L220.2,229.0 L219.2,229.3 L218.1,229.6 L217.0,229.9 L215.8,230.2 L214.6,230.4 L213.3,230.6 L211.9,230.8 L210.4,230.9 L208.9,231.1 L207.4,231.2 L205.8,231.4 L204.4,231.4 L203.0,231.5 L201.7,231.4 L200.5,231.4 L199.5,231.2 L198.5,231.0 L197.6,230.8 L196.8,230.5 L195.9,230.2 L195.1,229.9 L194.4,229.5 L193.6,229.2 L192.8,228.8 L192.0,228.4 L191.3,228.1 L190.6,227.7 L189.9,227.3 L189.2,226.8 L188.5,226.3 L187.8,225.8 L187.0,225.3 L186.3,224.7 L185.6,224.2 L184.8,223.7Z" fill="#1c1c1c" stroke="#e6e6e6" stroke-width="2.0" stroke-linejoin="round"/>
<path d="M227.3,53.7 L226.2,53.1 L225.0,52.5 L223.9,51.8 L222.8,51.2 L221.7,50.5 L220.5,49.9 L219.4,49.3 L218.1,48.7 L216.9,48.1 L215.6,47.6 L214.2,47.1 L212.8,46.5 L211.3,46.0 L209.8,45.5 L208.2,45.0 L206.7,44.6 L205.1,44.2 L203.5,43.8 L201.9,43.4 L200.3,43.1 L198.8,42.9 L197.3,42.6 L195.8,42.4 L194.3,42.2 L192.8,42.1 L191.3,42.0 L189.7,42.0 L188.1,42.0 L186.5,42.1 L184.9,42.4 L183.2,42.6 L181.5,43.0 L179.7,43.5 L177.9,44.0 L176.1,44.6 L174.4,45.2 L172.7,45.9 L171.1,46.6 L169.7,47.3 L168.3,48.0 L167.1,48.9 L166.1,49.7 L165.1,50.6 L164.4,51.6 L163.7,52.5 L163.2,53.5 L162.8,54.4 L162.4,55.2 L162.1,56.0 L161.8,56.8 L161.6,57.7 L161.3,58.5 L161.1,59.4 L161.0,60.3 L160.9,61.2 L160.9,62.1 L160.9,63.0 L160.9,63.9 L161.0,65.0 L161.0,66.1 L161.1,67.3 L161.2,68.6 L161.3,70.0 L161.4,71.4 L161.6,72.9 L161.7,74.4 L161.9,75.9 L162.1,77.4 L162.4,78.9 L162.6,80.5 L162.9,82.1 L163.3,83.7 L163.8,85.3 L164.2,86.8 L164.7,88.3 L165.1,89.8 L165.4,91.2 L165.6,92.6 L165.7,93.9 L165.6,95.2 L165.4,96.6 L165.0,98.1 L164.5,99.6 L163.8,101.2 L163.1,102.9 L162.3,104.5 L161.5,106.2 L160.6,107.8 L159.8,109.3 L159.1,110.8 L158.4,112.1 L157.7,113.4 L157.0,114.6 L156.2,115.8 L155.5,117.0 L154.7,118.2 L154.0,119.3 L153.3,120.4 L152.6,121.6 L152.0,122.7 L151.5,123.8 L151.0,124.8 L150.5,125.7 L150.0,126.7 L149.6,127.6 L149.2,128.6 L148.9,129.5 L148.5,130.5 L148.3,131.5 L148.1,132.5 L147.9,133.4 L147.8,134.4 L147.7,135.3 L147.6,136.2 L147.6,137.2 L147.7,138.1 L147.8,139.0 L148.0,140.0 L148.2,140.9 L148.5,141.9 L148.8,142.9 L149.2,143.9 L149.7,144.8 L150.2,145.8 L150.7,146.7 L151.3,147.7 L151.9,148.6 L152.5,149.5 L153.1,150.3 L153.7,151.2 L154.3,152.1 L155.0,152.9 L155.7,153.6 L156.4,154.2 L156.9,154.8 L157.5,155.4 L158.1,156.0 L158.6,156.7 L159.3,157.6 L160.0,158.7 L160.8,160.1 L161.9,161.8 L163.0,163.7 L164.2,165.8 L165.4,167.9 L166.5,170.0 L167.5,172.0 L168.3,173.8 L169.0,175.4 L169.4,176.7 L169.5,177.6 L169.6,178.3 L169.5,178.9 L169.4,179.4 L169.1,180.0 L168.8,180.6 L168.4,181.2 L167.9,181.9 L167.3,182.7 L166.8,183.5 L166.5,184.1 L166.1,184.6 L165.7,185.1 L165.3,185.6 L164.8,186.1 L164.3,186.5 L163.8,187.0 L163.3,187.4 L162.7,187.9 L162.2,188.3 L161.6,188.7 L161.1,189.1 L160.4,189.4 L159.7,189.8 L159.0,190.1 L158.3,190.5 L157.5,190.8 L156.7,191.2 L155.9,191.5 L155.2,191.9 L155.2,191.9 L156.0,191.9 L156.9,192.0 L157.7,192.0 L158.5,192.1 L159.4,192.1 L160.3,192.2 L161.2,192.2 L162.0,192.1 L162.9,191.9 L163.8,191.7 L164.7,191.4 L165.4,191.1 L166.2,190.7 L167.0,190.3 L167.8,189.8 L168.5,189.2 L169.2,188.6 L169.9,188.0 L170.6,187.3 L171.2,186.5 L171.7,185.9 L172.2,185.3 L172.8,184.6 L173.5,183.7 L174.1,182.8 L174.7,181.6 L175.2,180.2 L175.5,178.7 L175.5,177.1 L175.2,175.3 L174.7,173.5 L173.9,171.5 L173.0,169.4 L171.9,167.2 L170.8,164.9 L169.6,162.7 L168.4,160.6 L167.2,158.6 L166.2,156.9 L165.2,155.3 L164.3,154.0 L163.5,152.9 L162.6,151.9 L161.8,151.1 L161.0,150.4 L160.4,149.8 L159.8,149.3 L159.3,148.8 L158.8,148.4 L158.3,147.8 L157.8,147.0 L157.2,146.2 L156.7,145.4 L156.2,144.6 L155.7,143.8 L155.2,143.0 L154.8,142.3 L154.5,141.5 L154.2,140.8 L153.9,140.1 L153.7,139.5 L153.6,138.8 L153.4,138.2 L153.3,137.5 L153.3,136.9 L153.3,136.3 L153.3,135.6 L153.3,135.0 L153.4,134.3 L153.5,133.5 L153.7,132.8 L153.9,132.1 L154.1,131.4 L154.4,130.7 L154.8,129.9 L155.1,129.0 L155.5,128.2 L156.0,127.3 L156.5,126.3 L157.0,125.3 L157.5,124.3 L158.1,123.3 L158.7,122.2 L159.4,121.1 L160.1,119.9 L160.9,118.7 L161.7,117.4 L162.4,116.1 L163.2,114.7 L163.9,113.2 L164.6,111.7 L165.4,110.2 L166.2,108.5 L167.1,106.8 L167.9,105.1 L168.7,103.3 L169.4,101.4 L170.0,99.6 L170.5,97.7 L170.8,95.8 L170.9,93.9 L170.8,92.0 L170.5,90.3 L170.1,88.5 L169.7,86.9 L169.2,85.3 L168.7,83.8 L168.3,82.3 L167.9,80.9 L167.6,79.5 L167.3,78.1 L167.0,76.6 L166.7,75.1 L166.5,73.6 L166.2,72.2 L165.9,70.8 L165.7,69.5 L165.6,68.2 L165.4,67.0 L165.4,65.9 L165.4,64.9 L165.5,64.1 L165.6,63.3 L165.7,62.6 L165.9,62.0 L166.0,61.4 L166.3,60.9 L166.5,60.3 L166.8,59.8 L167.2,59.2 L167.5,58.5 L167.9,57.8 L168.3,57.1 L168.6,56.6 L169.0,56.1 L169.4,55.6 L169.8,55.2 L170.3,54.8 L170.9,54.4 L171.7,54.0 L172.6,53.5 L173.8,53.0 L175.2,52.6 L176.7,52.1 L178.3,51.6 L179.9,51.2 L181.5,50.8 L183.2,50.4 L184.7,50.1 L186.1,49.8 L187.5,49.6 L188.8,49.4 L190.1,49.2 L191.4,49.1 L192.8,49.0 L194.1,48.9 L195.5,48.8 L196.8,48.8 L198.2,48.8 L199.7,48.9 L201.1,49.0 L202.5,49.2 L204.0,49.4 L205.5,49.6 L207.0,49.9 L208.5,50.2 L210.1,50.6 L211.6,50.9 L213.0,51.2 L214.4,51.4 L215.8,51.7 L217.1,51.9 L218.4,52.1 L219.7,52.3 L221.0,52.6 L222.2,52.8 L223.5,53.0 L224.7,53.2 L226.0,53.5 L227.3,53.7Z" fill="#1c1c1c"/>
<path d="M177.3,96.3 L177.6,97.1 L177.8,97.9 L178.0,98.8 L178.3,99.6 L178.5,100.4 L178.8,101.2 L179.0,102.1 L179.3,102.9 L179.6,103.7 L179.9,104.5 L180.3,105.4 L180.7,106.2 L181.1,107.0 L181.5,107.9 L181.9,108.7 L182.3,109.6 L182.8,110.4 L183.2,111.2 L183.7,112.0 L184.1,112.8 L184.5,113.5 L185.0,114.3 L185.4,115.0 L185.8,115.8 L186.3,116.5 L186.7,117.3 L187.2,118.0 L187.7,118.7 L188.2,119.4 L188.7,120.1 L189.3,120.7 L189.8,121.3 L190.4,121.9 L190.9,122.5 L191.5,123.0 L192.1,123.6 L192.8,124.1 L193.4,124.6 L194.1,125.0 L194.8,125.5 L195.5,125.9 L196.3,126.4 L197.1,126.8 L197.9,127.1 L198.8,127.5 L199.6,127.8 L200.5,128.1 L201.4,128.4 L202.2,128.6 L203.1,128.8 L204.0,128.9 L204.8,129.0 L205.7,129.0 L206.5,129.0 L207.4,128.9 L208.2,128.8 L209.0,128.7 L209.8,128.6 L210.6,128.4 L211.4,128.2 L212.2,128.0 L213.0,127.7 L213.7,127.5 L214.4,127.2 L215.1,126.8 L215.8,126.5 L216.6,126.1 L217.3,125.6 L218.1,125.2 L218.8,124.7 L219.7,124.1 L220.5,123.5 L221.4,122.9 L222.4,122.2 L223.3,121.5 L224.2,120.8 L225.2,120.0 L226.1,119.2 L227.0,118.4 L227.9,117.5 L228.8,116.5 L229.6,115.5 L230.4,114.4 L231.2,113.3 L232.0,112.2 L232.8,111.1 L233.6,109.9 L234.4,108.8 L235.2,107.7 L236.0,106.6 L236.0,106.6 L235.0,107.5 L234.0,108.4 L233.0,109.4 L232.0,110.3 L231.0,111.3 L230.0,112.2 L229.0,113.1 L228.0,114.0 L227.0,114.8 L226.1,115.5 L225.2,116.3 L224.2,117.0 L223.3,117.7 L222.4,118.4 L221.5,119.1 L220.6,119.7 L219.7,120.3 L218.8,120.9 L218.0,121.5 L217.2,121.9 L216.4,122.4 L215.7,122.8 L215.0,123.2 L214.3,123.5 L213.7,123.8 L213.1,124.0 L212.5,124.2 L211.9,124.4 L211.2,124.6 L210.6,124.8 L209.9,125.0 L209.2,125.1 L208.5,125.2 L207.8,125.3 L207.1,125.4 L206.4,125.4 L205.7,125.4 L205.0,125.4 L204.4,125.3 L203.7,125.2 L203.0,125.1 L202.3,124.9 L201.6,124.7 L200.8,124.5 L200.1,124.2 L199.4,123.9 L198.6,123.6 L197.9,123.2 L197.2,122.9 L196.6,122.5 L196.0,122.1 L195.4,121.7 L194.9,121.3 L194.3,120.9 L193.8,120.5 L193.3,120.0 L192.8,119.5 L192.3,119.0 L191.8,118.5 L191.3,117.9 L190.8,117.4 L190.3,116.8 L189.9,116.2 L189.4,115.5 L189.0,114.8 L188.5,114.1 L188.1,113.4 L187.6,112.7 L187.2,112.0 L186.7,111.2 L186.2,110.5 L185.8,109.7 L185.3,109.0 L184.8,108.2 L184.4,107.4 L183.9,106.6 L183.5,105.8 L183.0,105.0 L182.5,104.2 L182.1,103.5 L181.6,102.7 L181.1,102.0 L180.7,101.3 L180.2,100.6 L179.7,99.9 L179.2,99.1 L178.7,98.4 L178.3,97.7 L177.8,97.0 L177.3,96.3Z" fill="#1c1c1c"/>
<path d="M174.8,112.2 L174.0,113.1 L173.2,113.8 L172.3,114.6 L171.4,115.4 L170.6,116.1 L169.7,117.0 L168.9,117.9 L168.1,118.9 L167.3,120.1 L166.6,121.4 L165.9,122.9 L165.3,124.5 L164.7,126.3 L164.0,128.2 L163.5,130.1 L163.0,132.1 L162.6,134.0 L162.2,135.8 L162.0,137.5 L162.0,139.0 L162.0,140.5 L162.3,141.9 L162.7,143.1 L163.3,144.2 L163.9,145.2 L164.5,146.0 L165.1,146.8 L165.7,147.5 L166.2,148.1 L166.7,148.8 L167.3,149.5 L167.9,150.3 L168.6,151.0 L169.2,151.6 L169.8,152.2 L170.4,152.8 L171.0,153.3 L171.6,153.8 L172.1,154.3 L172.5,154.9 L173.0,155.5 L173.5,156.1 L174.0,156.8 L174.4,157.6 L174.9,158.3 L175.4,159.1 L175.9,159.9 L176.3,160.7 L176.8,161.5 L177.3,162.3 L177.3,162.3 L177.1,161.4 L177.0,160.5 L176.9,159.6 L176.8,158.7 L176.7,157.7 L176.5,156.8 L176.3,155.9 L176.1,154.9 L175.8,154.0 L175.5,153.1 L175.0,152.2 L174.5,151.4 L173.9,150.7 L173.4,150.0 L172.8,149.3 L172.2,148.7 L171.7,148.1 L171.2,147.5 L170.8,146.9 L170.3,146.2 L169.7,145.4 L169.1,144.6 L168.5,143.9 L168.0,143.3 L167.5,142.7 L167.0,142.0 L166.7,141.4 L166.4,140.7 L166.2,139.9 L166.0,139.0 L166.1,137.8 L166.2,136.3 L166.4,134.6 L166.7,132.9 L167.1,131.0 L167.5,129.2 L168.0,127.3 L168.5,125.6 L168.9,124.0 L169.4,122.6 L169.8,121.3 L170.3,120.2 L170.8,119.1 L171.3,118.1 L171.9,117.2 L172.4,116.2 L173.0,115.2 L173.6,114.2 L174.2,113.2 L174.8,112.2Z" fill="#1c1c1c"/>
<path d="M208.3,127.6 L208.9,128.4 L209.5,129.2 L210.1,130.0 L210.7,130.9 L211.2,131.7 L211.8,132.4 L212.3,133.2 L212.7,133.9 L213.1,134.7 L213.4,135.4 L213.6,136.1 L213.8,136.8 L214.0,137.6 L214.2,138.4 L214.3,139.2 L214.4,140.0 L214.4,140.8 L214.4,141.5 L214.4,142.3 L214.3,143.0 L214.2,143.7 L214.1,144.5 L214.0,145.2 L213.8,145.9 L213.6,146.5 L213.4,147.1 L213.1,147.6 L212.8,148.1 L212.4,148.5 L212.0,148.9 L211.4,149.3 L210.7,149.6 L209.8,150.0 L208.8,150.3 L207.7,150.7 L206.5,151.0 L205.3,151.3 L204.1,151.5 L202.9,151.8 L201.7,152.1 L200.7,152.4 L199.6,152.6 L198.5,152.8 L197.4,152.9 L196.2,153.1 L195.1,153.3 L193.9,153.5 L192.8,153.7 L191.7,154.0 L190.7,154.4 L189.7,154.8 L188.9,155.2 L188.0,155.7 L187.3,156.2 L186.5,156.7 L185.9,157.3 L185.2,157.9 L184.6,158.5 L184.0,159.2 L183.5,159.8 L183.0,160.6 L182.5,161.4 L182.1,162.2 L181.7,163.1 L181.4,163.9 L181.1,164.7 L180.8,165.5 L180.6,166.3 L180.5,167.0 L180.3,167.7 L180.2,168.4 L180.2,169.1 L180.2,169.7 L180.2,170.3 L180.3,170.8 L180.4,171.4 L180.5,171.9 L180.6,172.4 L180.6,172.9 L180.7,173.5 L180.7,173.5 L181.0,173.0 L181.2,172.5 L181.5,172.0 L181.7,171.6 L182.0,171.1 L182.2,170.6 L182.5,170.2 L182.7,169.7 L183.0,169.2 L183.3,168.7 L183.6,168.1 L183.9,167.4 L184.2,166.7 L184.5,166.0 L184.8,165.2 L185.1,164.5 L185.4,163.9 L185.7,163.2 L186.1,162.7 L186.5,162.2 L186.9,161.7 L187.4,161.2 L187.9,160.7 L188.4,160.3 L188.9,159.8 L189.5,159.4 L190.1,159.0 L190.7,158.7 L191.4,158.3 L192.1,158.0 L192.9,157.7 L193.7,157.5 L194.7,157.3 L195.7,157.1 L196.8,156.9 L197.9,156.8 L199.1,156.6 L200.3,156.4 L201.5,156.2 L202.7,155.9 L203.8,155.6 L205.0,155.4 L206.2,155.1 L207.4,154.8 L208.7,154.5 L209.9,154.1 L211.1,153.7 L212.3,153.3 L213.4,152.7 L214.4,152.1 L215.3,151.3 L216.0,150.5 L216.6,149.7 L217.1,148.8 L217.4,147.8 L217.7,146.9 L217.9,146.0 L218.1,145.1 L218.2,144.3 L218.3,143.4 L218.4,142.5 L218.4,141.6 L218.4,140.6 L218.3,139.6 L218.2,138.6 L218.0,137.7 L217.7,136.7 L217.4,135.7 L217.1,134.8 L216.6,133.8 L216.1,132.9 L215.5,132.1 L214.8,131.3 L214.1,130.5 L213.3,129.8 L212.6,129.1 L211.8,128.4 L211.1,127.8 L210.4,127.1 L209.7,126.4Z" fill="#1c1c1c"/>
<path d="M244.8,97.1 L244.6,98.3 L244.3,99.5 L244.0,100.8 L243.8,102.0 L243.5,103.3 L243.2,104.5 L243.0,105.7 L242.8,106.9 L242.6,108.1 L242.5,109.3 L242.3,110.4 L242.2,111.5 L242.2,112.5 L242.1,113.6 L242.1,114.7 L242.0,115.7 L242.1,116.8 L242.2,117.9 L242.3,119.0 L242.4,120.0 L242.7,121.1 L242.9,122.1 L243.2,123.2 L243.5,124.2 L243.9,125.2 L244.3,126.2 L244.7,127.2 L245.3,128.1 L245.8,129.1 L246.5,130.1 L247.2,131.0 L247.9,131.9 L248.7,132.9 L249.6,133.7 L250.5,134.6 L251.4,135.5 L252.4,136.3 L253.4,137.1 L254.4,137.9 L255.4,138.7 L256.5,139.4 L257.7,140.1 L258.8,140.8 L260.0,141.4 L261.2,142.1 L262.4,142.7 L263.7,143.2 L264.9,143.8 L266.1,144.2 L267.3,144.6 L268.5,145.0 L269.7,145.3 L270.8,145.6 L272.0,145.7 L273.1,145.9 L274.3,146.0 L275.4,146.2 L276.5,146.3 L277.7,146.4 L278.8,146.6 L278.8,146.6 L277.8,146.1 L276.8,145.6 L275.7,145.0 L274.7,144.5 L273.7,144.0 L272.7,143.5 L271.7,143.0 L270.7,142.5 L269.7,141.9 L268.7,141.4 L267.7,140.8 L266.6,140.2 L265.5,139.6 L264.4,138.9 L263.3,138.3 L262.2,137.7 L261.1,137.0 L260.1,136.3 L259.1,135.6 L258.2,134.9 L257.3,134.2 L256.4,133.5 L255.6,132.7 L254.7,131.9 L253.9,131.1 L253.2,130.3 L252.5,129.5 L251.8,128.7 L251.1,127.9 L250.5,127.1 L250.0,126.4 L249.4,125.6 L248.9,124.8 L248.5,124.1 L248.0,123.3 L247.6,122.5 L247.3,121.7 L246.9,120.9 L246.6,120.0 L246.4,119.2 L246.1,118.3 L246.0,117.4 L245.9,116.5 L245.8,115.6 L245.7,114.6 L245.7,113.6 L245.7,112.6 L245.7,111.5 L245.6,110.5 L245.5,109.3 L245.5,108.2 L245.4,107.0 L245.3,105.9 L245.2,104.6 L245.2,103.4 L245.1,102.1 L245.0,100.9 L244.9,99.6 L244.9,98.3 L244.8,97.1Z" fill="#1c1c1c"/>
<path d="M228.2,156.4 L228.8,156.6 L229.5,156.8 L230.1,157.0 L230.6,157.2 L231.2,157.3 L231.9,157.5 L232.5,157.7 L233.3,157.9 L234.1,158.0 L234.9,158.2 L235.8,158.3 L236.8,158.5 L237.9,158.6 L239.0,158.8 L240.1,158.9 L241.3,159.0 L242.6,159.1 L243.9,159.2 L245.2,159.2 L246.5,159.2 L247.9,159.1 L249.3,159.0 L250.8,158.8 L252.2,158.6 L253.7,158.4 L255.2,158.2 L256.7,158.0 L258.1,157.7 L259.6,157.5 L261.0,157.3 L262.5,157.0 L264.0,156.7 L265.4,156.4 L266.9,156.1 L268.3,155.8 L269.7,155.6 L271.1,155.3 L272.5,155.1 L273.8,154.9 L275.2,154.8 L276.6,154.7 L278.0,154.6 L279.5,154.5 L280.9,154.5 L282.3,154.4 L283.6,154.5 L285.0,154.5 L286.3,154.7 L287.5,154.8 L288.7,155.0 L289.9,155.3 L291.1,155.7 L292.4,156.1 L293.6,156.6 L294.8,157.1 L295.9,157.7 L297.1,158.3 L298.2,158.9 L299.2,159.5 L300.2,160.1 L301.0,160.7 L301.8,161.2 L302.6,161.8 L303.3,162.5 L303.9,163.1 L304.6,163.8 L305.3,164.5 L306.0,165.3 L306.7,166.2 L307.4,167.0 L308.1,167.9 L308.8,168.9 L309.5,169.8 L310.2,170.9 L310.9,171.9 L311.7,173.0 L312.4,174.2 L313.1,175.3 L313.8,176.4 L314.5,177.5 L315.2,178.5 L315.9,179.6 L316.5,180.7 L317.2,181.8 L317.9,182.8 L318.5,183.9 L319.2,185.0 L319.8,186.0 L320.5,187.0 L321.1,188.0 L321.8,188.9 L322.4,189.8 L323.1,190.7 L323.8,191.5 L324.4,192.3 L325.1,193.2 L325.7,194.0 L326.4,194.8 L327.0,195.7 L327.7,196.5 L327.7,196.5 L327.4,195.5 L327.2,194.4 L326.9,193.4 L326.7,192.4 L326.4,191.3 L326.2,190.3 L325.9,189.3 L325.6,188.2 L325.3,187.1 L324.9,186.0 L324.4,184.9 L324.0,183.8 L323.5,182.7 L323.0,181.5 L322.4,180.4 L321.9,179.2 L321.3,178.0 L320.7,176.9 L320.1,175.7 L319.5,174.5 L318.9,173.4 L318.3,172.2 L317.6,171.0 L317.0,169.8 L316.3,168.7 L315.6,167.5 L314.9,166.3 L314.1,165.1 L313.4,164.0 L312.6,163.0 L311.8,162.0 L311.1,161.1 L310.4,160.1 L309.6,159.2 L308.8,158.4 L307.9,157.5 L307.0,156.7 L306.0,155.9 L304.9,155.1 L303.8,154.3 L302.6,153.6 L301.4,152.9 L300.1,152.3 L298.7,151.7 L297.3,151.1 L295.9,150.5 L294.4,150.0 L292.9,149.6 L291.4,149.2 L289.9,149.0 L288.3,148.7 L286.8,148.6 L285.2,148.6 L283.7,148.6 L282.1,148.6 L280.6,148.7 L279.1,148.9 L277.6,149.0 L276.1,149.2 L274.6,149.4 L273.1,149.6 L271.6,149.9 L270.1,150.2 L268.6,150.6 L267.2,151.0 L265.7,151.3 L264.3,151.7 L262.9,152.1 L261.5,152.4 L260.2,152.7 L258.7,153.1 L257.3,153.4 L255.8,153.8 L254.4,154.1 L252.9,154.5 L251.5,154.8 L250.1,155.1 L248.8,155.4 L247.5,155.6 L246.3,155.8 L245.1,155.9 L243.9,156.0 L242.7,156.0 L241.5,156.0 L240.3,156.0 L239.2,155.9 L238.1,155.9 L237.1,155.8 L236.0,155.8 L235.1,155.8 L234.2,155.8 L233.4,155.9 L232.7,155.9 L232.0,156.0 L231.4,156.1 L230.8,156.1 L230.1,156.2 L229.5,156.3 L228.9,156.3 L228.2,156.4Z" fill="#1c1c1c"/>
<path d="M179.7,183.9 L179.4,184.3 L179.2,184.6 L178.9,185.0 L178.6,185.3 L178.3,185.7 L178.1,186.0 L177.8,186.4 L177.5,186.7 L177.3,187.1 L177.0,187.5 L176.7,188.0 L176.5,188.4 L176.3,188.9 L176.0,189.3 L175.8,189.8 L175.6,190.3 L175.3,190.8 L175.1,191.3 L174.8,191.7 L174.5,192.2 L174.2,192.7 L173.9,193.2 L173.6,193.7 L173.2,194.3 L172.9,194.8 L172.5,195.3 L172.1,195.8 L171.8,196.4 L171.4,196.9 L171.0,197.4 L170.6,197.8 L170.2,198.3 L169.8,198.8 L169.4,199.3 L168.9,199.7 L168.5,200.2 L168.0,200.6 L167.6,201.1 L167.1,201.5 L166.6,202.0 L166.1,202.5 L165.6,202.9 L165.0,203.4 L164.4,203.8 L163.8,204.3 L163.2,204.8 L162.6,205.2 L161.9,205.7 L161.3,206.1 L160.7,206.6 L160.1,207.0 L159.5,207.4 L158.9,207.8 L158.3,208.2 L157.6,208.6 L157.0,209.0 L156.3,209.4 L155.7,209.8 L155.1,210.3 L154.5,210.7 L154.0,211.1 L153.5,211.6 L153.0,212.0 L152.6,212.4 L152.1,212.9 L151.7,213.3 L151.4,213.8 L151.0,214.2 L150.7,214.7 L150.4,215.2 L150.1,215.7 L149.8,216.1 L149.6,216.6 L149.4,217.2 L149.2,217.7 L149.0,218.3 L148.8,218.9 L148.7,219.6 L148.6,220.2 L148.6,220.9 L148.6,221.6 L148.6,222.4 L148.6,223.2 L148.7,224.0 L148.8,224.8 L148.9,225.7 L149.1,226.6 L149.3,227.5 L149.6,228.3 L149.9,229.2 L150.4,230.0 L150.9,230.8 L151.4,231.6 L152.0,232.3 L152.6,233.0 L153.2,233.6 L153.8,234.2 L154.4,234.8 L155.0,235.4 L155.7,235.9 L156.4,236.5 L157.1,237.0 L157.9,237.5 L158.6,237.9 L159.3,238.3 L160.0,238.7 L160.7,239.0 L161.3,239.3 L161.8,239.6 L162.4,240.0 L163.1,240.4 L163.8,240.8 L164.4,241.1 L165.0,241.3 L165.4,241.6 L165.7,241.8 L165.9,241.9 L165.9,242.0 L166.0,242.1 L166.0,242.1 L166.1,242.4 L166.2,242.8 L166.3,243.5 L166.3,244.2 L166.4,245.1 L166.5,246.1 L166.5,247.1 L166.6,248.2 L166.6,249.3 L166.7,250.3 L166.8,251.3 L166.9,252.3 L167.0,253.2 L167.1,254.2 L167.2,255.2 L167.3,256.2 L167.4,257.3 L167.4,258.3 L167.6,259.3 L167.7,260.4 L167.8,261.4 L167.9,262.3 L168.0,263.3 L168.1,264.3 L168.3,265.2 L168.4,266.2 L168.6,267.2 L168.7,268.3 L168.9,269.4 L169.0,270.5 L169.2,271.6 L169.4,272.9 L169.6,274.1 L169.8,275.5 L170.0,276.8 L170.2,278.2 L170.4,279.5 L170.7,280.9 L170.9,282.3 L171.2,283.7 L171.5,284.9 L171.7,286.1 L171.9,287.2 L172.2,288.4 L172.5,289.5 L172.8,290.8 L173.1,292.1 L173.6,293.5 L174.1,295.2 L174.7,297.0 L175.4,299.1 L176.2,301.4 L177.1,304.0 L178.1,306.7 L179.2,309.5 L180.3,312.3 L181.3,315.0 L182.3,317.6 L183.3,320.1 L184.2,322.3 L184.9,324.2 L185.7,326.1 L186.4,327.8 L187.1,329.4 L187.7,330.9 L188.4,332.4 L189.0,333.8 L189.7,335.2 L190.3,336.6 L191.0,338.0 L191.8,339.4 L192.5,340.8 L193.2,342.1 L194.0,343.4 L194.7,344.7 L195.5,345.9 L196.2,347.1 L197.0,348.2 L197.7,349.2 L198.4,350.2 L199.1,351.1 L199.8,351.9 L200.4,352.6 L201.1,353.3 L201.7,354.0 L202.4,354.6 L203.0,355.1 L203.7,355.7 L204.3,356.3 L205.0,357.0 L205.0,357.0 L204.7,356.1 L204.4,355.3 L204.1,354.5 L203.8,353.6 L203.5,352.8 L203.2,352.0 L202.9,351.1 L202.5,350.2 L202.1,349.2 L201.6,348.2 L201.1,347.1 L200.5,346.0 L199.8,344.9 L199.1,343.7 L198.4,342.5 L197.7,341.3 L197.0,340.0 L196.3,338.7 L195.6,337.4 L195.0,336.0 L194.4,334.7 L193.8,333.3 L193.2,332.0 L192.6,330.6 L192.0,329.1 L191.4,327.6 L190.8,326.0 L190.2,324.3 L189.5,322.5 L188.8,320.5 L188.1,318.3 L187.3,315.9 L186.5,313.2 L185.6,310.4 L184.7,307.6 L183.8,304.8 L183.0,302.0 L182.3,299.5 L181.6,297.1 L180.9,295.0 L180.4,293.2 L180.0,291.7 L179.6,290.3 L179.3,289.1 L179.0,287.9 L178.7,286.9 L178.5,285.8 L178.3,284.7 L178.0,283.6 L177.8,282.3 L177.5,281.1 L177.3,279.8 L177.1,278.5 L176.9,277.1 L176.8,275.8 L176.6,274.5 L176.4,273.2 L176.3,271.9 L176.1,270.7 L176.0,269.5 L175.8,268.4 L175.7,267.3 L175.6,266.3 L175.5,265.3 L175.4,264.4 L175.3,263.4 L175.2,262.5 L175.1,261.6 L175.0,260.6 L174.9,259.6 L174.9,258.7 L174.8,257.7 L174.7,256.7 L174.7,255.7 L174.6,254.7 L174.6,253.7 L174.5,252.7 L174.5,251.7 L174.4,250.6 L174.3,249.7 L174.2,248.7 L174.1,247.8 L174.1,246.7 L174.0,245.7 L173.9,244.6 L173.8,243.4 L173.7,242.3 L173.5,241.2 L173.1,240.0 L172.6,238.9 L171.9,237.8 L171.1,236.8 L170.2,236.1 L169.4,235.6 L168.6,235.2 L167.8,234.9 L167.2,234.6 L166.6,234.4 L166.1,234.3 L165.6,234.0 L165.0,233.7 L164.2,233.3 L163.5,233.0 L162.8,232.7 L162.1,232.5 L161.5,232.2 L160.9,231.9 L160.3,231.6 L159.8,231.4 L159.3,231.1 L158.8,230.7 L158.2,230.3 L157.7,229.8 L157.1,229.4 L156.6,229.0 L156.1,228.5 L155.7,228.1 L155.3,227.6 L154.9,227.2 L154.7,226.8 L154.4,226.4 L154.2,225.9 L154.0,225.3 L153.8,224.7 L153.7,224.1 L153.6,223.4 L153.5,222.8 L153.4,222.2 L153.4,221.6 L153.4,221.1 L153.4,220.6 L153.5,220.3 L153.5,220.0 L153.6,219.7 L153.7,219.4 L153.9,219.1 L154.0,218.8 L154.2,218.5 L154.4,218.2 L154.6,217.8 L154.9,217.4 L155.1,217.1 L155.3,216.8 L155.5,216.4 L155.8,216.1 L156.1,215.8 L156.4,215.4 L156.8,215.0 L157.1,214.7 L157.5,214.3 L157.9,213.9 L158.4,213.5 L158.9,213.2 L159.5,212.7 L160.1,212.3 L160.7,211.9 L161.3,211.4 L162.0,211.0 L162.6,210.5 L163.3,210.0 L163.9,209.6 L164.5,209.1 L165.1,208.6 L165.8,208.1 L166.4,207.6 L167.0,207.1 L167.6,206.6 L168.2,206.1 L168.8,205.5 L169.4,205.0 L169.9,204.5 L170.4,204.0 L170.9,203.4 L171.4,202.9 L171.9,202.4 L172.3,201.8 L172.8,201.3 L173.2,200.8 L173.6,200.2 L174.0,199.6 L174.4,199.1 L174.8,198.5 L175.2,197.9 L175.6,197.3 L175.9,196.7 L176.2,196.1 L176.6,195.5 L176.9,194.9 L177.2,194.4 L177.5,193.8 L177.7,193.2 L178.0,192.6 L178.2,192.1 L178.4,191.5 L178.6,191.0 L178.8,190.5 L179.0,190.0 L179.2,189.5 L179.3,189.0 L179.4,188.5 L179.5,188.0 L179.6,187.5 L179.6,187.0 L179.6,186.6 L179.7,186.1 L179.7,185.7 L179.7,185.2 L179.7,184.8 L179.7,184.4 L179.7,183.9Z" fill="#1c1c1c"/>
<path d="M187.0,322.0 L186.6,323.0 L186.1,324.0 L185.6,324.9 L185.1,325.9 L184.7,326.8 L184.2,327.8 L183.8,328.9 L183.3,330.1 L183.0,331.3 L182.6,332.7 L182.3,334.2 L182.1,335.8 L181.8,337.5 L181.6,339.2 L181.5,341.0 L181.3,342.8 L181.2,344.7 L181.0,346.5 L180.9,348.4 L180.8,350.3 L180.7,352.1 L180.6,354.1 L180.5,356.0 L180.5,358.0 L180.4,360.0 L180.4,362.0 L180.4,364.0 L180.4,366.0 L180.3,367.9 L180.3,369.9 L180.3,371.9 L180.2,374.0 L180.2,376.1 L180.2,378.2 L180.1,380.3 L180.1,382.3 L180.1,384.4 L180.1,386.3 L180.2,388.2 L180.2,390.0 L180.3,391.6 L180.4,393.2 L180.5,394.7 L180.6,396.1 L180.7,397.5 L180.9,398.8 L181.0,400.1 L181.1,401.4 L181.3,402.8 L181.4,404.2 L181.4,404.2 L181.6,402.8 L181.7,401.5 L181.9,400.1 L182.1,398.8 L182.2,397.5 L182.4,396.1 L182.6,394.7 L182.7,393.2 L182.9,391.7 L183.0,390.0 L183.1,388.3 L183.3,386.4 L183.4,384.5 L183.5,382.4 L183.6,380.4 L183.7,378.3 L183.8,376.2 L183.9,374.1 L184.0,372.1 L184.1,370.1 L184.2,368.1 L184.3,366.1 L184.4,364.1 L184.5,362.1 L184.6,360.1 L184.8,358.1 L184.9,356.2 L185.0,354.3 L185.1,352.4 L185.2,350.5 L185.3,348.7 L185.4,346.8 L185.6,345.0 L185.7,343.1 L185.8,341.3 L185.9,339.6 L186.1,337.9 L186.2,336.3 L186.3,334.7 L186.4,333.3 L186.5,331.9 L186.5,330.7 L186.6,329.5 L186.6,328.4 L186.7,327.4 L186.8,326.3 L186.8,325.3 L186.9,324.2 L186.9,323.1 L187.0,322.0Z" fill="#1c1c1c"/>
<path d="M227.4,341.0 L225.5,342.9 L223.5,344.8 L221.5,346.7 L219.5,348.6 L217.5,350.5 L215.6,352.4 L213.6,354.4 L211.7,356.4 L209.9,358.4 L208.1,360.6 L206.4,362.8 L204.7,365.0 L203.1,367.3 L201.5,369.6 L200.0,372.0 L198.5,374.3 L197.1,376.7 L195.6,379.1 L194.3,381.4 L192.9,383.8 L191.6,386.1 L190.4,388.5 L189.2,390.9 L188.0,393.2 L186.9,395.6 L185.8,398.0 L184.7,400.3 L183.6,402.6 L182.6,404.9 L181.5,407.2 L180.5,409.5 L179.5,411.8 L178.5,414.1 L177.5,416.4 L176.6,418.7 L175.6,420.9 L174.7,423.2 L173.7,425.5 L172.8,427.7 L171.8,430.0 L171.8,430.0 L173.1,427.9 L174.3,425.8 L175.6,423.7 L176.9,421.6 L178.1,419.5 L179.4,417.4 L180.7,415.2 L181.9,413.1 L183.2,410.9 L184.5,408.8 L185.7,406.5 L187.0,404.3 L188.2,402.1 L189.4,399.8 L190.7,397.5 L191.9,395.3 L193.2,393.0 L194.4,390.7 L195.7,388.5 L197.1,386.2 L198.5,383.9 L199.9,381.7 L201.4,379.4 L202.8,377.1 L204.3,374.8 L205.9,372.5 L207.4,370.2 L208.9,367.9 L210.4,365.7 L211.9,363.4 L213.4,361.2 L214.9,359.0 L216.5,356.7 L218.0,354.5 L219.6,352.3 L221.1,350.0 L222.7,347.8 L224.3,345.5 L225.8,343.3 L227.4,341.0Z" fill="#1c1c1c"/>
<path d="M279.6,199.1 L278.8,200.1 L278.1,201.1 L277.3,202.0 L276.5,203.0 L275.7,204.0 L275.0,205.0 L274.2,206.0 L273.4,207.0 L272.6,208.0 L271.9,209.1 L271.1,210.2 L270.3,211.4 L269.6,212.6 L268.8,213.8 L268.0,215.0 L267.2,216.2 L266.5,217.5 L265.7,218.7 L265.0,219.9 L264.2,221.1 L263.5,222.4 L262.8,223.6 L262.0,224.9 L261.3,226.1 L260.6,227.4 L259.9,228.7 L259.2,230.0 L258.5,231.2 L257.8,232.4 L257.2,233.5 L256.7,234.5 L256.2,235.3 L255.8,236.0 L255.3,236.8 L254.8,237.7 L254.2,238.6 L253.8,239.8 L253.3,241.1 L252.8,242.6 L252.4,244.3 L252.0,246.3 L251.5,248.6 L251.1,251.2 L250.6,253.9 L250.2,256.7 L249.7,259.6 L249.4,262.4 L249.1,265.1 L248.9,267.7 L248.8,270.0 L248.8,272.1 L248.9,274.1 L249.0,275.9 L249.3,277.7 L249.6,279.3 L249.9,280.9 L250.3,282.4 L250.7,283.8 L251.1,285.2 L251.6,286.6 L252.1,287.9 L252.6,289.2 L253.2,290.4 L253.8,291.6 L254.5,292.7 L255.2,293.8 L255.9,294.8 L256.7,295.9 L257.5,296.9 L258.4,297.9 L259.4,299.0 L260.4,300.1 L261.5,301.1 L262.6,302.0 L263.7,302.9 L264.8,303.8 L265.9,304.7 L267.0,305.7 L268.1,306.7 L269.2,307.8 L270.4,309.1 L271.6,310.4 L273.0,311.8 L274.3,313.3 L275.7,314.8 L277.0,316.3 L278.3,317.9 L279.6,319.5 L280.8,321.0 L281.9,322.6 L282.9,324.2 L284.0,325.9 L285.0,327.7 L286.0,329.6 L287.0,331.4 L287.9,333.3 L288.7,335.1 L289.5,336.8 L290.2,338.4 L290.9,340.0 L291.4,341.3 L291.8,342.5 L292.2,343.7 L292.5,344.7 L292.8,345.7 L293.0,346.8 L293.2,347.9 L293.4,349.0 L293.6,350.3 L293.7,351.6 L293.8,353.1 L293.9,354.7 L294.0,356.4 L294.0,358.1 L294.0,359.9 L294.0,361.7 L293.9,363.4 L293.9,365.0 L293.8,366.4 L293.7,367.7 L293.6,368.8 L293.5,369.6 L293.5,370.2 L293.4,370.7 L293.3,371.1 L293.2,371.5 L293.0,372.1 L292.7,372.8 L292.4,373.7 L292.1,374.8 L291.7,376.1 L291.3,377.6 L290.8,379.1 L290.4,380.7 L289.8,382.3 L289.3,383.9 L288.7,385.6 L288.1,387.2 L287.4,388.7 L286.7,390.2 L285.8,391.7 L284.9,393.3 L283.8,395.0 L282.6,396.6 L281.4,398.3 L280.2,400.0 L279.0,401.6 L277.8,403.2 L276.6,404.8 L275.5,406.2 L274.5,407.6 L273.6,408.8 L272.7,410.0 L271.8,411.1 L270.9,412.2 L270.1,413.3 L269.2,414.4 L268.4,415.4 L267.5,416.6 L266.6,417.7 L265.7,418.9 L264.8,420.1 L263.9,421.3 L263.0,422.5 L262.2,423.7 L261.3,424.9 L260.4,426.1 L259.5,427.4 L258.6,428.6 L257.7,429.8 L257.7,429.8 L258.9,428.9 L260.1,427.9 L261.2,427.0 L262.4,426.1 L263.6,425.1 L264.8,424.2 L266.0,423.2 L267.1,422.3 L268.3,421.3 L269.4,420.3 L270.5,419.3 L271.5,418.3 L272.5,417.4 L273.5,416.4 L274.5,415.4 L275.5,414.4 L276.6,413.4 L277.6,412.2 L278.7,411.0 L279.9,409.8 L281.1,408.4 L282.4,407.0 L283.7,405.5 L285.1,403.9 L286.5,402.3 L287.9,400.7 L289.3,399.0 L290.6,397.2 L291.8,395.5 L292.9,393.8 L293.9,392.0 L294.8,390.2 L295.6,388.3 L296.4,386.5 L297.0,384.7 L297.6,383.0 L298.2,381.4 L298.7,379.8 L299.1,378.4 L299.5,377.2 L299.9,376.2 L300.2,375.3 L300.4,374.5 L300.7,373.8 L300.9,373.0 L301.1,372.2 L301.2,371.4 L301.3,370.5 L301.4,369.5 L301.5,368.3 L301.6,366.9 L301.7,365.3 L301.7,363.6 L301.8,361.8 L301.8,360.0 L301.8,358.1 L301.8,356.2 L301.7,354.4 L301.6,352.6 L301.5,351.0 L301.4,349.5 L301.2,348.1 L301.1,346.8 L300.9,345.4 L300.7,344.1 L300.4,342.8 L300.1,341.4 L299.7,339.9 L299.2,338.4 L298.5,336.8 L297.8,335.1 L297.0,333.4 L296.1,331.5 L295.1,329.6 L294.1,327.7 L293.0,325.7 L291.9,323.8 L290.7,321.9 L289.5,320.0 L288.3,318.2 L287.1,316.4 L285.8,314.7 L284.4,313.0 L283.1,311.3 L281.7,309.6 L280.3,308.0 L279.0,306.4 L277.7,304.9 L276.4,303.5 L275.2,302.2 L274.0,300.9 L272.9,299.6 L271.7,298.5 L270.6,297.4 L269.6,296.4 L268.6,295.5 L267.7,294.6 L266.9,293.7 L266.3,292.9 L265.6,292.1 L265.0,291.2 L264.4,290.3 L263.9,289.5 L263.4,288.7 L263.0,287.9 L262.7,287.1 L262.3,286.3 L262.0,285.4 L261.7,284.5 L261.4,283.4 L261.1,282.3 L260.8,281.1 L260.6,279.9 L260.4,278.8 L260.2,277.5 L260.0,276.2 L259.9,274.9 L259.8,273.4 L259.7,271.8 L259.6,270.0 L259.6,268.0 L259.6,265.7 L259.6,263.1 L259.7,260.4 L259.8,257.6 L259.9,254.9 L260.1,252.2 L260.2,249.8 L260.4,247.6 L260.6,245.7 L260.8,244.2 L261.0,243.1 L261.1,242.2 L261.3,241.4 L261.5,240.8 L261.8,240.1 L262.1,239.4 L262.5,238.6 L262.9,237.6 L263.4,236.5 L263.9,235.3 L264.4,234.1 L264.9,232.9 L265.5,231.7 L266.2,230.4 L266.8,229.1 L267.5,227.8 L268.1,226.5 L268.8,225.2 L269.4,223.9 L270.0,222.6 L270.6,221.3 L271.2,219.9 L271.8,218.6 L272.3,217.3 L272.9,216.0 L273.5,214.7 L274.1,213.4 L274.6,212.1 L275.1,210.9 L275.6,209.7 L276.1,208.5 L276.6,207.3 L277.0,206.1 L277.4,204.9 L277.9,203.8 L278.3,202.6 L278.7,201.4 L279.2,200.3 L279.6,199.1Z" fill="#1c1c1c"/>
<path d="M184.8,223.7 L185.3,224.5 L185.7,225.3 L186.1,226.1 L186.5,226.9 L186.9,227.7 L187.4,228.5 L187.9,229.4 L188.5,230.1 L189.2,230.9 L190.0,231.6 L190.7,232.2 L191.6,232.7 L192.4,233.3 L193.3,233.7 L194.3,234.2 L195.3,234.6 L196.4,234.9 L197.6,235.2 L198.8,235.5 L200.1,235.6 L201.5,235.8 L202.9,235.8 L204.5,235.8 L206.1,235.7 L207.7,235.6 L209.3,235.5 L210.9,235.3 L212.5,235.1 L214.0,234.9 L215.4,234.6 L216.7,234.3 L218.0,234.0 L219.2,233.6 L220.4,233.2 L221.5,232.8 L222.6,232.4 L223.7,231.9 L224.7,231.5 L225.6,231.0 L226.6,230.5 L227.5,230.1 L228.4,229.6 L229.2,229.1 L230.0,228.6 L230.8,228.0 L231.6,227.5 L232.3,227.0 L233.1,226.4 L233.8,225.9 L234.6,225.4 L234.6,225.4 L233.7,225.6 L232.8,225.8 L231.9,226.0 L231.0,226.2 L230.1,226.4 L229.2,226.6 L228.3,226.8 L227.4,227.0 L226.4,227.2 L225.4,227.5 L224.4,227.7 L223.4,228.0 L222.3,228.4 L221.3,228.7 L220.2,229.0 L219.2,229.3 L218.1,229.6 L217.0,229.9 L215.8,230.2 L214.6,230.4 L213.3,230.6 L211.9,230.8 L210.4,230.9 L208.9,231.1 L207.4,231.2 L205.8,231.4 L204.4,231.4 L203.0,231.5 L201.7,231.4 L200.5,231.4 L199.5,231.2 L198.5,231.0 L197.6,230.8 L196.8,230.5 L195.9,230.2 L195.1,229.9 L194.4,229.5 L193.6,229.2 L192.8,228.8 L192.0,228.4 L191.3,228.1 L190.6,227.7 L189.9,227.3 L189.2,226.8 L188.5,226.3 L187.8,225.8 L187.0,225.3 L186.3,224.7 L185.6,224.2 L184.8,223.7Z" fill="#1c1c1c"/>
<path d="M301.6,214.8 L301.5,215.4 L301.4,215.9 L301.3,216.5 L301.2,217.0 L301.1,217.6 L301.0,218.1 L300.8,218.7 L300.6,219.2 L300.2,219.8 L299.8,220.3 L299.3,220.9 L298.7,221.4 L298.0,222.0 L297.3,222.5 L296.5,223.1 L295.7,223.7 L294.8,224.2 L293.9,224.8 L293.0,225.3 L292.0,225.8 L291.0,226.3 L289.9,226.8 L288.9,227.3 L287.7,227.7 L286.5,228.2 L285.3,228.7 L284.1,229.1 L282.8,229.6 L281.4,230.0 L280.0,230.5 L278.6,231.0 L277.1,231.4 L275.6,231.9 L274.1,232.4 L272.5,232.9 L270.8,233.3 L269.1,233.8 L267.3,234.2 L265.5,234.6 L263.5,235.0 L261.5,235.4 L259.4,235.7 L257.2,236.0 L254.9,236.3 L252.6,236.6 L250.2,236.9 L247.7,237.2 L245.2,237.4 L242.6,237.6 L240.0,237.8 L237.2,238.0 L234.3,238.1 L231.2,238.2 L228.0,238.2 L224.8,238.3 L221.6,238.3 L218.5,238.3 L215.5,238.4 L212.6,238.4 L210.0,238.4 L207.6,238.4 L205.3,238.4 L203.2,238.4 L201.2,238.4 L199.2,238.4 L197.3,238.4 L195.5,238.4 L193.7,238.3 L191.9,238.3 L190.0,238.2 L188.1,238.1 L186.3,238.1 L184.4,238.0 L182.6,237.9 L180.8,237.8 L179.0,237.7 L177.3,237.5 L175.6,237.3 L174.0,237.1 L172.5,236.8 L171.0,236.5 L169.6,236.1 L168.3,235.7 L167.0,235.2 L165.8,234.7 L164.5,234.2 L163.4,233.7 L162.2,233.1 L161.1,232.6 L160.0,232.0 L158.9,231.4 L157.9,230.8 L156.8,230.1 L155.8,229.4 L154.8,228.7 L153.9,228.0 L153.0,227.3 L152.1,226.6 L151.3,225.9 L150.5,225.3 L149.7,224.7 L149.0,224.2 L148.3,223.6 L147.7,223.1 L147.1,222.6 L146.5,222.1 L145.9,221.6 L145.4,221.0 L144.9,220.5 L144.5,220.0 L144.1,219.5 L143.7,218.9 L143.4,218.4 L143.1,217.8 L142.8,217.3 L142.6,216.7 L142.4,216.2 L142.3,215.6 L142.1,215.1 L142.0,214.6 L141.9,214.1 L141.9,213.6 L141.9,213.2 L142.0,212.7 L142.1,212.2 L142.2,211.8 L142.3,211.4 L142.4,210.9 L142.4,210.5 L142.5,210.0" fill="none" stroke="#b4b4b4" stroke-width="2.0"/>
<path d="M285.0,269.7 L285.0,270.6 L284.8,271.6 L284.4,272.5 L283.8,273.4 L283.0,274.3 L282.0,275.2 L280.8,276.1 L279.4,277.0 L277.8,277.8 L276.0,278.6 L274.0,279.5 L271.9,280.2 L269.6,281.0 L267.1,281.7 L264.4,282.4 L261.6,283.0 L258.7,283.7 L255.6,284.2 L252.4,284.8 L249.1,285.3 L245.7,285.7 L242.1,286.1 L238.5,286.5 L234.8,286.8 L231.1,287.1 L227.3,287.3 L223.4,287.5 L219.5,287.6 L215.6,287.7 L211.7,287.7 L207.8,287.7 L203.9,287.6 L200.0,287.5 L196.1,287.3 L192.3,287.1 L188.6,286.8 L184.9,286.5 L181.3,286.1 L177.7,285.7 L174.3,285.3 L171.0,284.8 L167.8,284.2 L164.7,283.7 L161.8,283.0 L159.0,282.4 L156.3,281.7 L153.8,281.0 L151.5,280.2 L149.4,279.5 L147.4,278.6 L145.6,277.8 L144.0,277.0 L142.6,276.1 L141.4,275.2 L140.4,274.3 L139.6,273.4 L139.0,272.5 L138.6,271.6 L138.4,270.6 L138.4,269.7" fill="none" stroke="#b4b4b4" stroke-width="2.0"/>
<path d="M311.4,341.2 L311.4,342.4 L311.2,343.7 L310.8,345.0 L310.1,346.3 L309.2,347.5 L308.2,348.8 L306.8,350.0 L305.3,351.2 L303.6,352.4 L301.6,353.5 L299.5,354.6 L297.1,355.7 L294.6,356.7 L291.9,357.7 L289.0,358.7 L286.0,359.6 L282.8,360.4 L279.4,361.2 L275.9,362.0 L272.3,362.6 L268.6,363.3 L264.7,363.8 L260.8,364.3 L256.8,364.8 L252.7,365.1 L248.6,365.5 L244.4,365.7 L240.1,365.9 L235.9,366.0 L231.6,366.0 L227.3,366.0 L223.1,365.9 L218.8,365.7 L214.6,365.5 L210.5,365.1 L206.4,364.8 L202.4,364.3 L198.5,363.8 L194.6,363.3 L190.9,362.6 L187.3,362.0 L183.8,361.2 L180.4,360.4 L177.2,359.6 L174.2,358.7 L171.3,357.7 L168.6,356.7 L166.1,355.7 L163.7,354.6 L161.6,353.5 L159.6,352.4 L157.9,351.2 L156.4,350.0 L155.0,348.8 L154.0,347.5 L153.1,346.3 L152.4,345.0 L152.0,343.7 L151.8,342.4 L151.8,341.2" fill="none" stroke="#b4b4b4" stroke-width="2.0"/>
</svg>
<div class="t h" style="left:472.67px;top:66px;font-size:29.3px;font-weight:700;color:#1c1c1c;transform-origin:0 25px;transform:scaleX(1.1029) scaleY(1.06)">H</div>
<div class="t h" style="left:496.39px;top:66px;font-size:29.3px;font-weight:700;color:#1c1c1c;transform-origin:0 25px;transform:scaleX(1.1317) scaleY(1.06)">O</div>
<div class="t h" style="left:523.10px;top:66px;font-size:29.3px;font-weight:700;color:#1c1c1c;transform-origin:0 25px;transform:scaleX(1.1673) scaleY(1.06)">W</div>
<div class="t h" style="left:564.94px;top:66px;font-size:29.3px;font-weight:700;color:#1c1c1c;transform-origin:0 25px;transform:scaleX(1.0571) scaleY(1.06)">T</div>
<div class="t h" style="left:583.70px;top:66px;font-size:29.3px;font-weight:700;color:#1c1c1c;transform-origin:0 25px;transform:scaleX(1.1171) scaleY(1.06)">O</div>
<div class="t h" style="left:618.68px;top:66px;font-size:29.3px;font-weight:700;color:#1c1c1c;transform-origin:0 25px;transform:scaleX(1.2096) scaleY(1.06)">M</div>
<div class="t h" style="left:649.74px;top:66px;font-size:29.3px;font-weight:700;color:#1c1c1c;transform-origin:0 25px;transform:scaleX(0.8358) scaleY(1.06)">E</div>
<div class="t h" style="left:666.33px;top:66px;font-size:29.3px;font-weight:700;color:#1c1c1c;transform-origin:0 25px;transform:scaleX(1.1641) scaleY(1.06)">A</div>
<div class="t h" style="left:690.71px;top:66px;font-size:29.3px;font-weight:700;color:#1c1c1c;transform-origin:0 25px;transform:scaleX(0.7831) scaleY(1.06)">S</div>
<div class="t h" style="left:706.93px;top:66px;font-size:29.3px;font-weight:700;color:#1c1c1c;transform-origin:0 25px;transform:scaleX(1.0704) scaleY(1.06)">U</div>
<div class="t h" style="left:731.60px;top:66px;font-size:29.3px;font-weight:700;color:#1c1c1c;transform-origin:0 25px;transform:scaleX(0.9120) scaleY(1.06)">R</div>
<div class="t h" style="left:752.29px;top:66px;font-size:29.3px;font-weight:700;color:#1c1c1c;transform-origin:0 25px;transform:scaleX(0.8657) scaleY(1.06)">E</div>
<div class="t" style="left:476.28px;top:162px;font-size:20.6px;font-weight:400;color:#1e1e1e;transform-origin:0 17px;transform:scaleX(0.9472)">BUST</div>
<div class="t" style="left:549.49px;top:162px;font-size:20.6px;font-weight:400;color:#1e1e1e;transform-origin:0 17px;transform:scaleX(1.0067)">Measure over the fullest area of your</div>
<div class="t" style="left:550.44px;top:199px;font-size:20.6px;font-weight:400;color:#1e1e1e;transform-origin:0 17px;transform:scaleX(1.0069)">bust &amp; straight around your back.</div>
<div class="t" style="left:478.40px;top:277px;font-size:20.6px;font-weight:400;color:#1e1e1e;transform-origin:0 17px;transform:scaleX(0.9625)">WAIST</div>
<div class="t" style="left:546.47px;top:277px;font-size:20.6px;font-weight:400;color:#1e1e1e;transform-origin:0 17px;transform:scaleX(1.0200)">Measure the narrowest part of your torso.</div>
<div class="t" style="left:474.77px;top:357px;font-size:20.6px;font-weight:400;color:#1e1e1e;transform-origin:0 17px;transform:scaleX(1.0205)">HIP</div>
<div class="t" style="left:545.87px;top:357px;font-size:20.6px;font-weight:400;color:#1e1e1e;transform-origin:0 17px;transform:scaleX(1.0197)">Measure at the fullest part of your hip</div>
<div class="t" style="left:543.95px;top:393px;font-size:20.6px;font-weight:400;color:#1e1e1e;transform-origin:0 17px;transform:scaleX(0.9973)">ensuring the tape is straight .</div>
<div class="t" style="left:84.90px;top:207px;font-size:17.5px;font-weight:400;color:#222;transform-origin:0 14px;transform:scaleX(0.9569)">BUST</div>
<div class="t" style="left:74.70px;top:264px;font-size:17.5px;font-weight:400;color:#222;transform-origin:0 14px;transform:scaleX(1.0000)">WAIST</div>
<div class="t" style="left:107.19px;top:341px;font-size:17.5px;font-weight:400;color:#222;transform-origin:0 14px;transform:scaleX(1.0481)">HIP</div>
<div class="dot" style="left:452px;top:168.6px"></div>
<div class="dot" style="left:452px;top:282px"></div>
<div class="dot" style="left:452px;top:363px"></div>
</body></html>
